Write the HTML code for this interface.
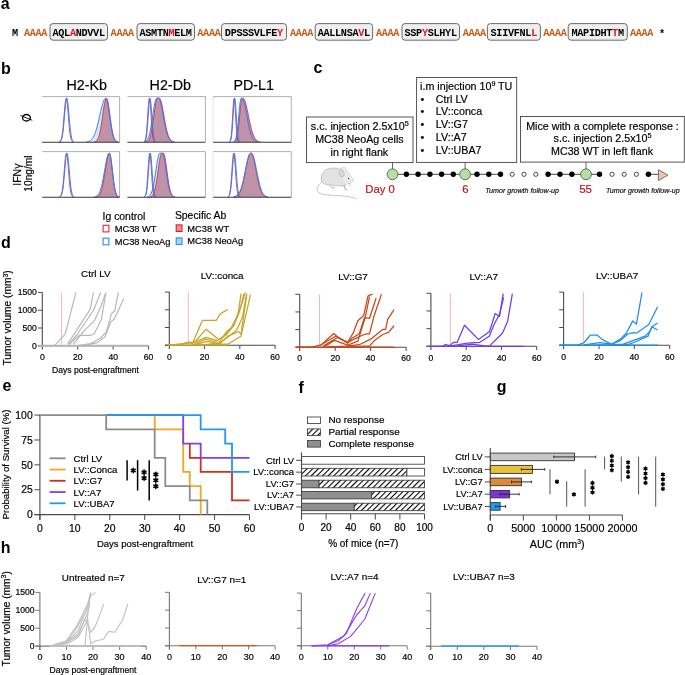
<!DOCTYPE html>
<html><head><meta charset="utf-8"><style>
html,body{margin:0;padding:0;background:#fff;}
svg{display:block;will-change:transform;}
</style></head><body>
<svg width="685" height="675" viewBox="0 0 685 675" font-family="'Liberation Sans', sans-serif">
<rect width="685" height="675" fill="#fff"/>
<text x="0.80" y="8.60" font-family="'Liberation Sans', sans-serif" font-size="16" text-anchor="start" font-weight="bold" font-style="normal" fill="#000" >a</text>
<text x="12.00" y="35.60" font-family="'Liberation Mono', monospace" font-size="10.2" text-anchor="start" font-weight="bold" font-style="normal" fill="#000" letter-spacing="-0.32">M</text>
<text x="23.90" y="35.60" font-family="'Liberation Mono', monospace" font-size="10.2" text-anchor="start" font-weight="bold" font-style="normal" fill="#c85a14" letter-spacing="-0.32">AAAA</text>
<text x="110.60" y="35.60" font-family="'Liberation Mono', monospace" font-size="10.2" text-anchor="start" font-weight="bold" font-style="normal" fill="#c85a14" letter-spacing="-0.32">AAAA</text>
<text x="197.30" y="35.60" font-family="'Liberation Mono', monospace" font-size="10.2" text-anchor="start" font-weight="bold" font-style="normal" fill="#c85a14" letter-spacing="-0.32">AAAA</text>
<text x="289.90" y="35.60" font-family="'Liberation Mono', monospace" font-size="10.2" text-anchor="start" font-weight="bold" font-style="normal" fill="#c85a14" letter-spacing="-0.32">AAAA</text>
<text x="375.90" y="35.60" font-family="'Liberation Mono', monospace" font-size="10.2" text-anchor="start" font-weight="bold" font-style="normal" fill="#c85a14" letter-spacing="-0.32">AAAA</text>
<text x="462.70" y="35.60" font-family="'Liberation Mono', monospace" font-size="10.2" text-anchor="start" font-weight="bold" font-style="normal" fill="#c85a14" letter-spacing="-0.32">AAAA</text>
<text x="543.30" y="35.60" font-family="'Liberation Mono', monospace" font-size="10.2" text-anchor="start" font-weight="bold" font-style="normal" fill="#c85a14" letter-spacing="-0.32">AAAA</text>
<text x="629.90" y="35.60" font-family="'Liberation Mono', monospace" font-size="10.2" text-anchor="start" font-weight="bold" font-style="normal" fill="#c85a14" letter-spacing="-0.32">AAAA</text>
<rect x="50.00" y="23.60" width="57.50" height="16.60" rx="3" fill="#efefef" stroke="#5a5a5a" stroke-width="0.9" />
<text x="78.60" y="35.60" font-family="'Liberation Mono', monospace" font-size="10.2" text-anchor="middle" font-weight="bold" font-style="normal" fill="#000" letter-spacing="-0.32">AQL<tspan fill="#e8141c">A</tspan>NDVVL</text>
<rect x="137.00" y="23.60" width="57.50" height="16.60" rx="3" fill="#efefef" stroke="#5a5a5a" stroke-width="0.9" />
<text x="165.60" y="35.60" font-family="'Liberation Mono', monospace" font-size="10.2" text-anchor="middle" font-weight="bold" font-style="normal" fill="#000" letter-spacing="-0.32">ASMTN<tspan fill="#e8141c">M</tspan>ELM</text>
<rect x="221.50" y="23.60" width="65.00" height="16.60" rx="3" fill="#efefef" stroke="#5a5a5a" stroke-width="0.9" />
<text x="253.85" y="35.60" font-family="'Liberation Mono', monospace" font-size="10.2" text-anchor="middle" font-weight="bold" font-style="normal" fill="#000" letter-spacing="-0.32">DPSSSVLFE<tspan fill="#e8141c">Y</tspan></text>
<rect x="315.20" y="23.60" width="57.40" height="16.60" rx="3" fill="#efefef" stroke="#5a5a5a" stroke-width="0.9" />
<text x="343.75" y="35.60" font-family="'Liberation Mono', monospace" font-size="10.2" text-anchor="middle" font-weight="bold" font-style="normal" fill="#000" letter-spacing="-0.32">AALLNSA<tspan fill="#e8141c">V</tspan>L</text>
<rect x="402.00" y="23.60" width="57.50" height="16.60" rx="3" fill="#efefef" stroke="#5a5a5a" stroke-width="0.9" />
<text x="430.60" y="35.60" font-family="'Liberation Mono', monospace" font-size="10.2" text-anchor="middle" font-weight="bold" font-style="normal" fill="#000" letter-spacing="-0.32">SSP<tspan fill="#e8141c">Y</tspan>SLHYL</text>
<rect x="487.40" y="23.60" width="53.00" height="16.60" rx="3" fill="#efefef" stroke="#5a5a5a" stroke-width="0.9" />
<text x="513.75" y="35.60" font-family="'Liberation Mono', monospace" font-size="10.2" text-anchor="middle" font-weight="bold" font-style="normal" fill="#000" letter-spacing="-0.32">SIIVFNL<tspan fill="#e8141c">L</tspan></text>
<rect x="568.20" y="23.60" width="59.10" height="16.60" rx="3" fill="#efefef" stroke="#5a5a5a" stroke-width="0.9" />
<text x="597.60" y="35.60" font-family="'Liberation Mono', monospace" font-size="10.2" text-anchor="middle" font-weight="bold" font-style="normal" fill="#000" letter-spacing="-0.32">MAPIDHT<tspan fill="#e8141c">T</tspan>M</text>
<text x="659.00" y="36.50" font-family="'Liberation Mono', monospace" font-size="10.2" text-anchor="start" font-weight="bold" font-style="normal" fill="#000" >*</text>
<text x="0.90" y="73.50" font-family="'Liberation Sans', sans-serif" font-size="16" text-anchor="start" font-weight="bold" font-style="normal" fill="#000" >b</text>
<text x="66.50" y="89.90" font-family="'Liberation Sans', sans-serif" font-size="14.3" text-anchor="start" font-weight="normal" font-style="normal" fill="#000" stroke="#000" stroke-width="0.18" >H2-Kb</text>
<text x="149.60" y="89.90" font-family="'Liberation Sans', sans-serif" font-size="14.3" text-anchor="start" font-weight="normal" font-style="normal" fill="#000" stroke="#000" stroke-width="0.18" >H2-Db</text>
<text x="233.40" y="89.90" font-family="'Liberation Sans', sans-serif" font-size="14.3" text-anchor="start" font-weight="normal" font-style="normal" fill="#000" stroke="#000" stroke-width="0.18" >PD-L1</text>
<path d="M42.20,142.10 L43.17,142.10 L44.14,142.10 L45.10,142.10 L46.07,142.10 L47.04,142.10 L48.01,142.10 L48.97,142.10 L49.94,142.10 L50.91,142.10 L51.88,142.10 L52.84,142.10 L53.81,142.10 L54.78,142.10 L55.75,142.10 L56.71,142.10 L57.68,142.10 L58.65,142.10 L59.62,142.10 L60.58,142.10 L61.55,142.10 L62.52,142.10 L63.48,142.10 L64.45,142.10 L65.42,142.10 L66.39,142.10 L67.36,142.10 L68.32,142.10 L69.29,142.10 L70.26,142.10 L71.22,142.10 L72.19,142.10 L73.16,142.10 L74.13,142.10 L75.09,142.10 L76.06,142.10 L77.03,142.10 L78.00,142.10 L78.97,142.10 L79.93,142.10 L80.90,142.09 L81.87,142.08 L82.84,142.07 L83.80,142.05 L84.77,142.01 L85.74,141.94 L86.70,141.82 L87.67,141.64 L88.64,141.37 L89.61,140.95 L90.57,140.35 L91.54,139.49 L92.51,138.32 L93.48,136.77 L94.44,134.78 L95.41,132.29 L96.38,129.30 L97.35,125.83 L98.31,121.94 L99.28,117.76 L100.25,113.48 L101.22,109.31 L102.19,105.49 L103.15,102.27 L104.12,99.89 L105.09,98.51 L106.06,98.30 L107.02,100.53 L107.99,105.25 L108.96,111.60 L109.92,118.52 L110.89,125.07 L111.86,130.62 L112.83,134.87 L113.80,137.85 L114.76,139.76 L115.73,140.90 L116.70,141.53 L117.66,141.84 L118.63,141.99 L119.60,142.06 L119.60,142.10 L42.20,142.10Z" fill="#d4e8fb" stroke="none"/>
<path d="M42.20,142.10 L43.17,142.10 L44.14,142.10 L45.10,142.10 L46.07,142.10 L47.04,142.10 L48.01,142.10 L48.97,142.10 L49.94,142.10 L50.91,142.10 L51.88,142.10 L52.84,142.10 L53.81,142.10 L54.78,142.10 L55.75,142.10 L56.71,142.10 L57.68,142.10 L58.65,142.10 L59.62,142.10 L60.58,142.10 L61.55,142.10 L62.52,142.10 L63.48,142.10 L64.45,142.10 L65.42,142.10 L66.39,142.10 L67.36,142.10 L68.32,142.10 L69.29,142.10 L70.26,142.10 L71.22,142.10 L72.19,142.10 L73.16,142.10 L74.13,142.10 L75.09,142.10 L76.06,142.10 L77.03,142.10 L78.00,142.10 L78.97,142.10 L79.93,142.10 L80.90,142.10 L81.87,142.10 L82.84,142.10 L83.80,142.10 L84.77,142.10 L85.74,142.10 L86.70,142.10 L87.67,142.10 L88.64,142.10 L89.61,142.10 L90.57,142.09 L91.54,142.08 L92.51,142.05 L93.48,141.98 L94.44,141.81 L95.41,141.48 L96.38,140.83 L97.35,139.69 L98.31,137.78 L99.28,134.87 L100.25,130.75 L101.22,125.40 L102.19,119.06 L103.15,112.32 L104.12,106.02 L105.09,101.13 L106.06,98.50 L107.02,98.69 L107.99,102.00 L108.96,107.79 L109.92,114.90 L110.89,122.13 L111.86,128.51 L112.83,133.53 L113.80,137.10 L114.76,139.39 L115.73,140.74 L116.70,141.47 L117.66,141.83 L118.63,141.99 L119.60,142.06 L119.60,142.10 L42.20,142.10Z" fill="#bf92a8" stroke="none"/>
<path d="M42.20,96.60 L119.60,96.60 L119.60,142.10" fill="none" stroke="#959595" stroke-width="0.75"/>
<polyline points="59.13,141.95 59.62,141.78 60.10,141.46 60.58,140.87 61.07,139.89 61.55,138.32 62.03,135.97 62.52,132.67 63.00,128.34 63.48,123.07 63.97,117.14 64.45,111.05 64.94,105.47 65.42,101.13 65.90,98.63 66.39,98.37 66.87,100.39 67.36,104.36 67.84,109.72 68.32,115.76 68.81,121.78 69.29,127.23 69.77,131.78 70.26,135.31 70.74,137.86 71.22,139.59 71.71,140.69 72.19,141.35 72.68,141.72 73.16,141.92" stroke="#e31c2c" stroke-width="0.8" fill="none" stroke-linejoin="round" />
<polyline points="93.96,141.91 94.44,141.81 94.93,141.67 95.41,141.48 95.90,141.21 96.38,140.83 96.86,140.34 97.35,139.69 97.83,138.85 98.31,137.78 98.80,136.47 99.28,134.87 99.77,132.97 100.25,130.75 100.73,128.22 101.22,125.40 101.70,122.32 102.19,119.06 102.67,115.69 103.15,112.32 103.64,109.05 104.12,106.02 104.60,103.34 105.09,101.13 105.57,99.49 106.06,98.50 106.54,98.20 107.02,98.69 107.51,99.98 107.99,102.00 108.47,104.65 108.96,107.79 109.44,111.26 109.92,114.90 110.41,118.57 110.89,122.13 111.38,125.47 111.86,128.51 112.34,131.21 112.83,133.53 113.31,135.49 113.80,137.10 114.28,138.39 114.76,139.39 115.25,140.17 115.73,140.74 116.21,141.17 116.70,141.47 117.18,141.68 117.66,141.83 118.15,141.93" stroke="#e31c2c" stroke-width="0.8" fill="none" stroke-linejoin="round" />
<polyline points="59.13,141.97 59.62,141.84 60.10,141.60 60.58,141.17 61.07,140.44 61.55,139.28 62.03,137.54 62.52,135.04 63.00,131.68 63.48,127.41 63.97,122.35 64.45,116.75 64.94,111.04 65.42,105.79 65.90,101.58 66.39,98.94 66.87,98.22 67.36,99.53 67.84,102.68 68.32,107.25 68.81,112.71 69.29,118.43 69.77,123.91 70.26,128.76 70.74,132.76 71.22,135.86 71.71,138.12 72.19,139.68 72.68,140.69 73.16,141.32 73.64,141.69 74.13,141.89" stroke="#1f80ff" stroke-width="0.95" fill="none" stroke-linejoin="round" />
<polyline points="86.22,141.89 86.70,141.82 87.19,141.74 87.67,141.64 88.16,141.52 88.64,141.37 89.12,141.18 89.61,140.95 90.09,140.67 90.57,140.35 91.06,139.95 91.54,139.49 92.03,138.95 92.51,138.32 92.99,137.60 93.48,136.77 93.96,135.83 94.44,134.78 94.93,133.60 95.41,132.29 95.90,130.86 96.38,129.30 96.86,127.62 97.35,125.83 97.83,123.93 98.31,121.94 98.80,119.88 99.28,117.76 99.77,115.62 100.25,113.48 100.73,111.36 101.22,109.31 101.70,107.34 102.19,105.49 102.67,103.79 103.15,102.27 103.64,100.96 104.12,99.89 104.60,99.06 105.09,98.51 105.57,98.23 106.06,98.30 106.54,99.07 107.02,100.53 107.51,102.63 107.99,105.25 108.47,108.29 108.96,111.60 109.44,115.05 109.92,118.52 110.41,121.89 110.89,125.07 111.38,128.00 111.86,130.62 112.34,132.91 112.83,134.87 113.31,136.51 113.80,137.85 114.28,138.92 114.76,139.76 115.25,140.41 115.73,140.90 116.21,141.26 116.70,141.53 117.18,141.71 117.66,141.84 118.15,141.93" stroke="#1f80ff" stroke-width="0.95" fill="none" stroke-linejoin="round" />
<line x1="42.20" y1="142.25" x2="119.60" y2="142.25" stroke="#2a2a2a" stroke-width="0.95" stroke-linecap="butt" />
<path d="M42.20,197.10 L43.17,197.10 L44.14,197.10 L45.10,197.10 L46.07,197.10 L47.04,197.10 L48.01,197.10 L48.97,197.10 L49.94,197.10 L50.91,197.10 L51.88,197.10 L52.84,197.10 L53.81,197.10 L54.78,197.10 L55.75,197.10 L56.71,197.10 L57.68,197.10 L58.65,197.10 L59.62,197.10 L60.58,197.10 L61.55,197.10 L62.52,197.10 L63.48,197.10 L64.45,197.10 L65.42,197.10 L66.39,197.10 L67.36,197.10 L68.32,197.10 L69.29,197.10 L70.26,197.10 L71.22,197.10 L72.19,197.10 L73.16,197.10 L74.13,197.10 L75.09,197.10 L76.06,197.10 L77.03,197.10 L78.00,197.10 L78.97,197.10 L79.93,197.10 L80.90,197.10 L81.87,197.10 L82.84,197.10 L83.80,197.10 L84.77,197.10 L85.74,197.10 L86.70,197.10 L87.67,197.10 L88.64,197.10 L89.61,197.09 L90.57,197.09 L91.54,197.07 L92.51,197.04 L93.48,196.97 L94.44,196.84 L95.41,196.61 L96.38,196.20 L97.35,195.51 L98.31,194.43 L99.28,192.80 L100.25,190.49 L101.22,187.36 L102.19,183.38 L103.15,178.60 L104.12,173.24 L105.09,167.66 L106.06,162.35 L107.02,157.85 L107.99,154.69 L108.96,153.26 L109.92,154.38 L110.89,159.28 L111.86,166.72 L112.83,174.96 L113.80,182.47 L114.76,188.32 L115.73,192.33 L116.70,194.74 L117.66,196.04 L118.63,196.67 L119.60,196.94 L119.60,197.10 L42.20,197.10Z" fill="#d4e8fb" stroke="none"/>
<path d="M42.20,197.10 L43.17,197.10 L44.14,197.10 L45.10,197.10 L46.07,197.10 L47.04,197.10 L48.01,197.10 L48.97,197.10 L49.94,197.10 L50.91,197.10 L51.88,197.10 L52.84,197.10 L53.81,197.10 L54.78,197.10 L55.75,197.10 L56.71,197.10 L57.68,197.10 L58.65,197.10 L59.62,197.10 L60.58,197.10 L61.55,197.10 L62.52,197.10 L63.48,197.10 L64.45,197.10 L65.42,197.10 L66.39,197.10 L67.36,197.10 L68.32,197.10 L69.29,197.10 L70.26,197.10 L71.22,197.10 L72.19,197.10 L73.16,197.10 L74.13,197.10 L75.09,197.10 L76.06,197.10 L77.03,197.10 L78.00,197.10 L78.97,197.10 L79.93,197.10 L80.90,197.10 L81.87,197.10 L82.84,197.10 L83.80,197.10 L84.77,197.10 L85.74,197.10 L86.70,197.10 L87.67,197.10 L88.64,197.10 L89.61,197.10 L90.57,197.10 L91.54,197.10 L92.51,197.09 L93.48,197.07 L94.44,197.03 L95.41,196.94 L96.38,196.77 L97.35,196.43 L98.31,195.83 L99.28,194.82 L100.25,193.22 L101.22,190.82 L102.19,187.47 L103.15,183.09 L104.12,177.77 L105.09,171.82 L106.06,165.74 L107.02,160.21 L107.99,155.95 L108.96,153.56 L109.92,153.67 L110.89,157.98 L111.86,165.57 L112.83,174.37 L113.80,182.44 L114.76,188.64 L115.73,192.73 L116.70,195.08 L117.66,196.27 L118.63,196.79 L119.60,197.00 L119.60,197.10 L42.20,197.10Z" fill="#bf92a8" stroke="none"/>
<path d="M42.20,151.60 L119.60,151.60 L119.60,197.10" fill="none" stroke="#959595" stroke-width="0.75"/>
<polyline points="59.62,196.86 60.10,196.61 60.58,196.15 61.07,195.36 61.55,194.05 62.03,192.04 62.52,189.15 63.00,185.25 63.48,180.35 63.97,174.64 64.45,168.54 64.94,162.67 65.42,157.73 65.90,154.41 66.39,153.20 66.87,154.29 67.36,157.51 67.84,162.38 68.32,168.23 68.81,174.33 69.29,180.07 69.77,185.02 70.26,188.98 70.74,191.92 71.22,193.97 71.71,195.30 72.19,196.12 72.68,196.60 73.16,196.85" stroke="#e31c2c" stroke-width="0.8" fill="none" stroke-linejoin="round" />
<polyline points="95.90,196.87 96.38,196.77 96.86,196.62 97.35,196.43 97.83,196.17 98.31,195.83 98.80,195.39 99.28,194.82 99.77,194.11 100.25,193.22 100.73,192.13 101.22,190.82 101.70,189.27 102.19,187.47 102.67,185.40 103.15,183.09 103.64,180.53 104.12,177.77 104.60,174.85 105.09,171.82 105.57,168.76 106.06,165.74 106.54,162.86 107.02,160.21 107.51,157.88 107.99,155.95 108.47,154.49 108.96,153.56 109.44,153.20 109.92,153.67 110.41,155.30 110.89,157.98 111.38,161.49 111.86,165.57 112.34,169.96 112.83,174.37 113.31,178.59 113.80,182.44 114.28,185.81 114.76,188.64 115.25,190.94 115.73,192.73 116.21,194.09 116.70,195.08 117.18,195.78 117.66,196.27 118.15,196.59 118.63,196.79 119.12,196.92" stroke="#e31c2c" stroke-width="0.8" fill="none" stroke-linejoin="round" />
<polyline points="59.62,196.91 60.10,196.72 60.58,196.38 61.07,195.79 61.55,194.82 62.03,193.34 62.52,191.17 63.00,188.18 63.48,184.28 63.97,179.53 64.45,174.11 64.94,168.38 65.42,162.87 65.90,158.15 66.39,154.81 66.87,153.27 67.36,153.75 67.84,156.17 68.32,160.22 68.81,165.38 69.29,171.07 69.77,176.71 70.26,181.85 70.74,186.22 71.22,189.69 71.71,192.28 72.19,194.11 72.68,195.33 73.16,196.10 73.64,196.56 74.13,196.82 74.61,196.96" stroke="#1f80ff" stroke-width="0.95" fill="none" stroke-linejoin="round" />
<polyline points="93.96,196.92 94.44,196.84 94.93,196.74 95.41,196.61 95.90,196.43 96.38,196.20 96.86,195.90 97.35,195.51 97.83,195.03 98.31,194.43 98.80,193.69 99.28,192.80 99.77,191.74 100.25,190.49 100.73,189.03 101.22,187.36 101.70,185.47 102.19,183.38 102.67,181.08 103.15,178.60 103.64,175.98 104.12,173.24 104.60,170.45 105.09,167.66 105.57,164.94 106.06,162.35 106.54,159.96 107.02,157.85 107.51,156.08 107.99,154.69 108.47,153.74 108.96,153.26 109.44,153.33 109.92,154.38 110.41,156.41 110.89,159.28 111.38,162.79 111.86,166.72 112.34,170.85 112.83,174.96 113.31,178.88 113.80,182.47 114.28,185.63 114.76,188.32 115.25,190.55 115.73,192.33 116.21,193.70 116.70,194.74 117.18,195.50 117.66,196.04 118.15,196.42 118.63,196.67 119.12,196.84 119.60,196.94" stroke="#1f80ff" stroke-width="0.95" fill="none" stroke-linejoin="round" />
<line x1="42.20" y1="197.25" x2="119.60" y2="197.25" stroke="#2a2a2a" stroke-width="0.95" stroke-linecap="butt" />
<path d="M127.40,142.10 L128.38,142.10 L129.35,142.10 L130.33,142.10 L131.30,142.10 L132.28,142.10 L133.25,142.10 L134.22,142.10 L135.20,142.10 L136.18,142.10 L137.15,142.10 L138.12,142.10 L139.10,142.10 L140.08,142.10 L141.05,142.09 L142.03,142.06 L143.00,142.01 L143.97,141.89 L144.95,141.63 L145.93,141.13 L146.90,140.23 L147.88,138.71 L148.85,136.31 L149.83,132.82 L150.80,128.12 L151.78,122.32 L152.75,115.81 L153.72,109.28 L154.70,103.61 L155.68,99.69 L156.65,98.20 L157.62,98.20 L158.60,98.21 L159.57,99.33 L160.55,102.18 L161.53,106.41 L162.50,111.54 L163.48,117.03 L164.45,122.40 L165.43,127.27 L166.40,131.41 L167.38,134.72 L168.35,137.22 L169.32,139.01 L170.30,140.22 L171.28,141.01 L172.25,141.49 L173.23,141.78 L174.20,141.93 L175.18,142.02 L176.15,142.06 L177.12,142.08 L178.10,142.09 L179.07,142.10 L180.05,142.10 L181.03,142.10 L182.00,142.10 L182.98,142.10 L183.95,142.10 L184.93,142.10 L185.90,142.10 L186.88,142.10 L187.85,142.10 L188.82,142.10 L189.80,142.10 L190.78,142.10 L191.75,142.10 L192.73,142.10 L193.70,142.10 L194.68,142.10 L195.65,142.10 L196.62,142.10 L197.60,142.10 L198.57,142.10 L199.55,142.10 L200.53,142.10 L201.50,142.10 L202.48,142.10 L203.45,142.10 L204.43,142.10 L205.40,142.10 L205.40,142.10 L127.40,142.10Z" fill="#d4e8fb" stroke="none"/>
<path d="M127.40,142.10 L128.38,142.10 L129.35,142.10 L130.33,142.10 L131.30,142.10 L132.28,142.10 L133.25,142.10 L134.22,142.10 L135.20,142.10 L136.18,142.10 L137.15,142.10 L138.12,142.10 L139.10,142.10 L140.08,142.10 L141.05,142.10 L142.03,142.10 L143.00,142.09 L143.97,142.06 L144.95,142.00 L145.93,141.85 L146.90,141.52 L147.88,140.87 L148.85,139.65 L149.83,137.58 L150.80,134.33 L151.78,129.70 L152.75,123.72 L153.72,116.77 L154.70,109.66 L155.68,103.49 L156.65,99.41 L157.62,98.20 L158.60,98.20 L159.57,98.28 L160.55,99.79 L161.53,103.05 L162.50,107.63 L163.48,113.02 L164.45,118.64 L165.43,124.01 L166.40,128.76 L167.38,132.70 L168.35,135.76 L169.32,138.02 L170.30,139.58 L171.28,140.62 L172.25,141.27 L173.23,141.65 L174.20,141.87 L175.18,141.99 L176.15,142.05 L177.12,142.08 L178.10,142.09 L179.07,142.10 L180.05,142.10 L181.03,142.10 L182.00,142.10 L182.98,142.10 L183.95,142.10 L184.93,142.10 L185.90,142.10 L186.88,142.10 L187.85,142.10 L188.82,142.10 L189.80,142.10 L190.78,142.10 L191.75,142.10 L192.73,142.10 L193.70,142.10 L194.68,142.10 L195.65,142.10 L196.62,142.10 L197.60,142.10 L198.57,142.10 L199.55,142.10 L200.53,142.10 L201.50,142.10 L202.48,142.10 L203.45,142.10 L204.43,142.10 L205.40,142.10 L205.40,142.10 L127.40,142.10Z" fill="#bf92a8" stroke="none"/>
<path d="M127.40,96.60 L205.40,96.60 L205.40,142.10" fill="none" stroke="#959595" stroke-width="0.75"/>
<polyline points="143.97,141.86 144.46,141.52 144.95,140.79 145.44,139.38 145.93,136.93 146.41,133.07 146.90,127.59 147.39,120.68 147.88,113.02 148.36,105.82 148.85,100.49 149.34,98.23 149.83,99.58 150.31,104.22 150.80,111.08 151.29,118.75 151.78,125.94 152.26,131.82 152.75,136.09 153.24,138.87 153.72,140.50 154.21,141.37 154.70,141.80 155.19,141.98" stroke="#e31c2c" stroke-width="0.8" fill="none" stroke-linejoin="round" />
<polyline points="145.93,141.85 146.41,141.72 146.90,141.52 147.39,141.25 147.88,140.87 148.36,140.35 148.85,139.65 149.34,138.74 149.83,137.58 150.31,136.12 150.80,134.33 151.29,132.20 151.78,129.70 152.26,126.86 152.75,123.72 153.24,120.32 153.72,116.77 154.21,113.17 154.70,109.66 155.19,106.38 155.68,103.49 156.16,101.13 156.65,99.41 157.14,98.42 157.62,98.20 158.11,98.20 158.60,98.20 159.09,98.20 159.57,98.28 160.06,98.80 160.55,99.79 161.04,101.22 161.53,103.05 162.01,105.21 162.50,107.63 162.99,110.26 163.48,113.02 163.96,115.84 164.45,118.64 164.94,121.38 165.43,124.01 165.91,126.48 166.40,128.76 166.89,130.84 167.38,132.70 167.86,134.34 168.35,135.76 168.84,136.98 169.32,138.02 169.81,138.88 170.30,139.58 170.79,140.16 171.28,140.62 171.76,140.98 172.25,141.27 172.74,141.48 173.23,141.65 173.71,141.78 174.20,141.87" stroke="#e31c2c" stroke-width="0.8" fill="none" stroke-linejoin="round" />
<polyline points="143.97,141.95 144.46,141.73 144.95,141.27 145.44,140.38 145.93,138.79 146.41,136.18 146.90,132.27 147.39,126.93 147.88,120.37 148.36,113.18 148.85,106.37 149.34,101.10 149.83,98.41 150.31,98.86 150.80,102.36 151.29,108.19 151.78,115.22 152.26,122.32 152.75,128.58 153.24,133.52 153.72,137.04 154.21,139.33 154.70,140.69 155.19,141.44 155.68,141.81 156.16,141.98" stroke="#1f80ff" stroke-width="0.95" fill="none" stroke-linejoin="round" />
<polyline points="143.97,141.89 144.46,141.78 144.95,141.63 145.44,141.42 145.93,141.13 146.41,140.75 146.90,140.23 147.39,139.56 147.88,138.71 148.36,137.63 148.85,136.31 149.34,134.71 149.83,132.82 150.31,130.62 150.80,128.12 151.29,125.34 151.78,122.32 152.26,119.12 152.75,115.81 153.24,112.50 153.72,109.28 154.21,106.28 154.70,103.61 155.19,101.38 155.68,99.69 156.16,98.61 156.65,98.20 157.14,98.20 157.62,98.20 158.11,98.20 158.60,98.21 159.09,98.54 159.57,99.33 160.06,100.56 160.55,102.18 161.04,104.15 161.53,106.41 162.01,108.90 162.50,111.54 162.99,114.27 163.48,117.03 163.96,119.76 164.45,122.40 164.94,124.92 165.43,127.27 165.91,129.44 166.40,131.41 166.89,133.17 167.38,134.72 167.86,136.06 168.35,137.22 168.84,138.19 169.32,139.01 169.81,139.68 170.30,140.22 170.79,140.66 171.28,141.01 171.76,141.28 172.25,141.49 172.74,141.65 173.23,141.78 173.71,141.87" stroke="#1f80ff" stroke-width="0.95" fill="none" stroke-linejoin="round" />
<line x1="127.40" y1="142.25" x2="205.40" y2="142.25" stroke="#2a2a2a" stroke-width="0.95" stroke-linecap="butt" />
<path d="M127.40,197.10 L128.38,197.10 L129.35,197.10 L130.33,197.10 L131.30,197.10 L132.28,197.10 L133.25,197.10 L134.22,197.10 L135.20,197.10 L136.18,197.10 L137.15,197.10 L138.12,197.10 L139.10,197.10 L140.08,197.10 L141.05,197.10 L142.03,197.10 L143.00,197.10 L143.97,197.09 L144.95,197.07 L145.93,197.02 L146.90,196.92 L147.88,196.69 L148.85,196.25 L149.83,195.43 L150.80,194.04 L151.78,191.82 L152.75,188.53 L153.72,184.05 L154.70,178.43 L155.68,172.01 L156.65,165.42 L157.62,159.52 L158.60,155.23 L159.57,153.27 L160.55,153.20 L161.53,153.20 L162.50,153.34 L163.48,155.60 L164.45,160.26 L165.43,166.48 L166.40,173.27 L167.38,179.73 L168.35,185.25 L169.32,189.53 L170.30,192.57 L171.28,194.56 L172.25,195.77 L173.23,196.45 L174.20,196.80 L175.18,196.97 L176.15,197.05 L177.12,197.08 L178.10,197.09 L179.07,197.10 L180.05,197.10 L181.03,197.10 L182.00,197.10 L182.98,197.10 L183.95,197.10 L184.93,197.10 L185.90,197.10 L186.88,197.10 L187.85,197.10 L188.82,197.10 L189.80,197.10 L190.78,197.10 L191.75,197.10 L192.73,197.10 L193.70,197.10 L194.68,197.10 L195.65,197.10 L196.62,197.10 L197.60,197.10 L198.57,197.10 L199.55,197.10 L200.53,197.10 L201.50,197.10 L202.48,197.10 L203.45,197.10 L204.43,197.10 L205.40,197.10 L205.40,197.10 L127.40,197.10Z" fill="#d4e8fb" stroke="none"/>
<path d="M127.40,197.10 L128.38,197.10 L129.35,197.10 L130.33,197.10 L131.30,197.10 L132.28,197.10 L133.25,197.10 L134.22,197.10 L135.20,197.10 L136.18,197.10 L137.15,197.10 L138.12,197.10 L139.10,197.10 L140.08,197.10 L141.05,197.10 L142.03,197.10 L143.00,197.10 L143.97,197.10 L144.95,197.10 L145.93,197.10 L146.90,197.09 L147.88,197.06 L148.85,197.00 L149.83,196.87 L150.80,196.57 L151.78,195.98 L152.75,194.90 L153.72,193.04 L154.70,190.14 L155.68,185.95 L156.65,180.44 L157.62,173.87 L158.60,166.90 L159.57,160.46 L160.55,155.64 L161.53,153.32 L162.50,153.20 L163.48,153.21 L164.45,155.13 L165.43,159.97 L166.40,166.70 L167.38,174.07 L168.35,180.95 L169.32,186.62 L170.30,190.81 L171.28,193.61 L172.25,195.30 L173.23,196.25 L174.20,196.72 L175.18,196.95 L176.15,197.04 L177.12,197.08 L178.10,197.09 L179.07,197.10 L180.05,197.10 L181.03,197.10 L182.00,197.10 L182.98,197.10 L183.95,197.10 L184.93,197.10 L185.90,197.10 L186.88,197.10 L187.85,197.10 L188.82,197.10 L189.80,197.10 L190.78,197.10 L191.75,197.10 L192.73,197.10 L193.70,197.10 L194.68,197.10 L195.65,197.10 L196.62,197.10 L197.60,197.10 L198.57,197.10 L199.55,197.10 L200.53,197.10 L201.50,197.10 L202.48,197.10 L203.45,197.10 L204.43,197.10 L205.40,197.10 L205.40,197.10 L127.40,197.10Z" fill="#bf92a8" stroke="none"/>
<path d="M127.40,151.60 L205.40,151.60 L205.40,197.10" fill="none" stroke="#959595" stroke-width="0.75"/>
<polyline points="143.97,196.97 144.46,196.76 144.95,196.29 145.44,195.34 145.93,193.58 146.41,190.63 146.90,186.15 147.39,180.08 147.88,172.77 148.36,165.12 148.85,158.47 149.34,154.21 149.83,153.32 150.31,156.02 150.80,161.67 151.29,169.01 151.78,176.63 152.26,183.38 152.75,188.65 153.24,192.32 153.72,194.61 154.21,195.91 154.70,196.58 155.19,196.89" stroke="#e31c2c" stroke-width="0.8" fill="none" stroke-linejoin="round" />
<polyline points="149.83,196.87 150.31,196.75 150.80,196.57 151.29,196.32 151.78,195.98 152.26,195.52 152.75,194.90 153.24,194.08 153.72,193.04 154.21,191.74 154.70,190.14 155.19,188.21 155.68,185.95 156.16,183.35 156.65,180.44 157.14,177.26 157.62,173.87 158.11,170.38 158.60,166.90 159.09,163.54 159.57,160.46 160.06,157.78 160.55,155.64 161.04,154.12 161.53,153.32 162.01,153.20 162.50,153.20 162.99,153.20 163.48,153.21 163.96,153.76 164.45,155.13 164.94,157.24 165.43,159.97 165.91,163.17 166.40,166.70 166.89,170.38 167.38,174.07 167.86,177.63 168.35,180.95 168.84,183.97 169.32,186.62 169.81,188.90 170.30,190.81 170.79,192.37 171.28,193.61 171.76,194.57 172.25,195.30 172.74,195.85 173.23,196.25 173.71,196.53 174.20,196.72 174.69,196.86" stroke="#e31c2c" stroke-width="0.8" fill="none" stroke-linejoin="round" />
<polyline points="144.46,196.88 144.95,196.59 145.44,195.99 145.93,194.87 146.41,192.93 146.90,189.84 147.39,185.38 147.88,179.53 148.36,172.63 148.85,165.46 149.34,159.10 149.83,154.72 150.31,153.20 150.80,154.88 151.29,159.38 151.78,165.81 152.26,173.00 152.75,179.86 153.24,185.65 153.72,190.03 154.21,193.05 154.70,194.95 155.19,196.04 155.68,196.61 156.16,196.89" stroke="#1f80ff" stroke-width="0.95" fill="none" stroke-linejoin="round" />
<polyline points="146.90,196.92 147.39,196.82 147.88,196.69 148.36,196.50 148.85,196.25 149.34,195.90 149.83,195.43 150.31,194.82 150.80,194.04 151.29,193.05 151.78,191.82 152.26,190.32 152.75,188.53 153.24,186.44 153.72,184.05 154.21,181.37 154.70,178.43 155.19,175.29 155.68,172.01 156.16,168.68 156.65,165.42 157.14,162.33 157.62,159.52 158.11,157.12 158.60,155.23 159.09,153.93 159.57,153.27 160.06,153.20 160.55,153.20 161.04,153.20 161.53,153.20 162.01,153.20 162.50,153.34 162.99,154.13 163.48,155.60 163.96,157.68 164.45,160.26 164.94,163.23 165.43,166.48 165.91,169.86 166.40,173.27 166.89,176.59 167.38,179.73 167.86,182.64 168.35,185.25 168.84,187.55 169.32,189.53 169.81,191.20 170.30,192.57 170.79,193.68 171.28,194.56 171.76,195.25 172.25,195.77 172.74,196.16 173.23,196.45 173.71,196.65 174.20,196.80 174.69,196.90" stroke="#1f80ff" stroke-width="0.95" fill="none" stroke-linejoin="round" />
<line x1="127.40" y1="197.25" x2="205.40" y2="197.25" stroke="#2a2a2a" stroke-width="0.95" stroke-linecap="butt" />
<path d="M213.20,142.10 L214.18,142.10 L215.15,142.10 L216.13,142.10 L217.10,142.10 L218.08,142.10 L219.06,142.10 L220.03,142.10 L221.01,142.10 L221.99,142.10 L222.96,142.10 L223.94,142.10 L224.91,142.10 L225.89,142.10 L226.87,142.10 L227.84,142.10 L228.82,142.10 L229.80,142.10 L230.77,142.10 L231.75,142.08 L232.72,142.01 L233.70,141.77 L234.68,141.01 L235.65,139.06 L236.63,134.94 L237.61,127.79 L238.58,117.88 L239.56,107.35 L240.53,99.85 L241.51,98.20 L242.49,98.43 L243.46,100.19 L244.44,103.52 L245.42,108.02 L246.39,113.22 L247.37,118.61 L248.34,123.78 L249.32,128.38 L250.30,132.25 L251.27,135.31 L252.25,137.61 L253.23,139.25 L254.20,140.37 L255.18,141.09 L256.15,141.53 L257.13,141.79 L258.11,141.94 L259.08,142.02 L260.06,142.06 L261.04,142.08 L262.01,142.09 L262.99,142.10 L263.97,142.10 L264.94,142.10 L265.92,142.10 L266.89,142.10 L267.87,142.10 L268.85,142.10 L269.82,142.10 L270.80,142.10 L271.78,142.10 L272.75,142.10 L273.73,142.10 L274.70,142.10 L275.68,142.10 L276.66,142.10 L277.63,142.10 L278.61,142.10 L279.59,142.10 L280.56,142.10 L281.54,142.10 L282.51,142.10 L283.49,142.10 L284.47,142.10 L285.44,142.10 L286.42,142.10 L287.39,142.10 L288.37,142.10 L289.35,142.10 L290.32,142.10 L291.30,142.10 L291.30,142.10 L213.20,142.10Z" fill="#d4e8fb" stroke="none"/>
<path d="M213.20,142.10 L214.18,142.10 L215.15,142.10 L216.13,142.10 L217.10,142.10 L218.08,142.10 L219.06,142.10 L220.03,142.10 L221.01,142.10 L221.99,142.10 L222.96,142.10 L223.94,142.10 L224.91,142.10 L225.89,142.10 L226.87,142.10 L227.84,142.10 L228.82,142.10 L229.80,142.10 L230.77,142.10 L231.75,142.09 L232.72,142.07 L233.70,141.96 L234.68,141.63 L235.65,140.68 L236.63,138.43 L237.61,133.99 L238.58,126.69 L239.56,116.98 L240.53,106.93 L241.51,99.83 L242.49,98.20 L243.46,98.36 L244.44,99.73 L245.42,102.38 L246.39,106.06 L247.37,110.45 L248.34,115.20 L249.32,119.97 L250.30,124.48 L251.27,128.53 L252.25,131.98 L253.23,134.79 L254.20,137.00 L255.18,138.65 L256.15,139.84 L257.13,140.67 L258.11,141.22 L259.08,141.58 L260.06,141.80 L261.04,141.93 L262.01,142.01 L262.99,142.05 L263.97,142.08 L264.94,142.09 L265.92,142.09 L266.89,142.10 L267.87,142.10 L268.85,142.10 L269.82,142.10 L270.80,142.10 L271.78,142.10 L272.75,142.10 L273.73,142.10 L274.70,142.10 L275.68,142.10 L276.66,142.10 L277.63,142.10 L278.61,142.10 L279.59,142.10 L280.56,142.10 L281.54,142.10 L282.51,142.10 L283.49,142.10 L284.47,142.10 L285.44,142.10 L286.42,142.10 L287.39,142.10 L288.37,142.10 L289.35,142.10 L290.32,142.10 L291.30,142.10 L291.30,142.10 L213.20,142.10Z" fill="#bf92a8" stroke="none"/>
<path d="M213.20,96.60 L291.30,96.60 L291.30,142.10" fill="none" stroke="#959595" stroke-width="0.75"/>
<line x1="213.20" y1="96.60" x2="213.20" y2="142.10" stroke="#d8d8d8" stroke-width="0.7" stroke-linecap="butt" />
<polyline points="229.31,141.88 229.80,141.50 230.28,140.59 230.77,138.71 231.26,135.30 231.75,129.88 232.24,122.44 232.72,113.75 233.21,105.50 233.70,99.79 234.19,98.28 234.68,101.46 235.17,108.34 235.65,116.99 236.14,125.37 236.63,132.12 237.12,136.77 237.61,139.55 238.09,141.01 238.58,141.68 239.07,141.96" stroke="#e31c2c" stroke-width="0.8" fill="none" stroke-linejoin="round" />
<polyline points="233.70,141.96 234.19,141.84 234.68,141.63 235.17,141.26 235.65,140.68 236.14,139.77 236.63,138.43 237.12,136.54 237.61,133.99 238.09,130.70 238.58,126.69 239.07,122.05 239.56,116.98 240.05,111.80 240.53,106.93 241.02,102.80 241.51,99.83 242.00,98.34 242.49,98.20 242.98,98.20 243.46,98.36 243.95,98.88 244.44,99.73 244.93,100.91 245.42,102.38 245.90,104.11 246.39,106.06 246.88,108.19 247.37,110.45 247.86,112.80 248.34,115.20 248.83,117.60 249.32,119.97 249.81,122.28 250.30,124.48 250.79,126.57 251.27,128.53 251.76,130.33 252.25,131.98 252.74,133.46 253.23,134.79 253.71,135.97 254.20,137.00 254.69,137.89 255.18,138.65 255.67,139.30 256.15,139.84 256.64,140.30 257.13,140.67 257.62,140.98 258.11,141.22 258.60,141.42 259.08,141.58 259.57,141.70 260.06,141.80 260.55,141.88" stroke="#e31c2c" stroke-width="0.8" fill="none" stroke-linejoin="round" />
<polyline points="229.31,141.98 229.80,141.77 230.28,141.27 230.77,140.19 231.26,138.14 231.75,134.63 232.24,129.32 232.72,122.24 233.21,114.10 233.70,106.26 234.19,100.47 234.68,98.20 235.17,100.09 235.65,105.61 236.14,113.34 236.63,121.52 237.12,128.73 237.61,134.22 238.09,137.88 238.58,140.05 239.07,141.20 239.56,141.74 240.05,141.97" stroke="#1f80ff" stroke-width="0.95" fill="none" stroke-linejoin="round" />
<polyline points="233.21,141.93 233.70,141.77 234.19,141.48 234.68,141.01 235.17,140.24 235.65,139.06 236.14,137.34 236.63,134.94 237.12,131.76 237.61,127.79 238.09,123.10 238.58,117.88 239.07,112.48 239.56,107.35 240.05,102.99 240.53,99.85 241.02,98.32 241.51,98.20 242.00,98.20 242.49,98.43 242.98,99.10 243.46,100.19 243.95,101.68 244.44,103.52 244.93,105.65 245.42,108.02 245.90,110.57 246.39,113.22 246.88,115.92 247.37,118.61 247.86,121.25 248.34,123.78 248.83,126.16 249.32,128.38 249.81,130.41 250.30,132.25 250.79,133.88 251.27,135.31 251.76,136.55 252.25,137.61 252.74,138.50 253.23,139.25 253.71,139.87 254.20,140.37 254.69,140.77 255.18,141.09 255.67,141.34 256.15,141.53 256.64,141.68 257.13,141.79 257.62,141.88" stroke="#1f80ff" stroke-width="0.95" fill="none" stroke-linejoin="round" />
<line x1="213.20" y1="142.25" x2="291.30" y2="142.25" stroke="#2a2a2a" stroke-width="0.95" stroke-linecap="butt" />
<path d="M213.20,197.10 L214.18,197.10 L215.15,197.10 L216.13,197.10 L217.10,197.10 L218.08,197.10 L219.06,197.10 L220.03,197.10 L221.01,197.10 L221.99,197.10 L222.96,197.10 L223.94,197.10 L224.91,197.10 L225.89,197.10 L226.87,197.10 L227.84,197.10 L228.82,197.09 L229.80,197.08 L230.77,197.07 L231.75,197.03 L232.72,196.97 L233.70,196.86 L234.68,196.67 L235.65,196.36 L236.63,195.87 L237.61,195.12 L238.58,194.02 L239.56,192.47 L240.53,190.37 L241.51,187.65 L242.49,184.27 L243.46,180.26 L244.44,175.73 L245.42,170.89 L246.39,166.03 L247.37,161.50 L248.34,157.67 L249.32,154.88 L250.30,153.40 L251.27,153.20 L252.25,153.78 L253.23,155.83 L254.20,159.13 L255.18,163.39 L256.15,168.20 L257.13,173.18 L258.11,177.99 L259.08,182.37 L260.06,186.13 L261.04,189.22 L262.01,191.63 L262.99,193.44 L263.97,194.73 L264.94,195.62 L265.92,196.21 L266.89,196.58 L267.87,196.81 L268.85,196.94 L269.82,197.02 L270.80,197.06 L271.78,197.08 L272.75,197.09 L273.73,197.10 L274.70,197.10 L275.68,197.10 L276.66,197.10 L277.63,197.10 L278.61,197.10 L279.59,197.10 L280.56,197.10 L281.54,197.10 L282.51,197.10 L283.49,197.10 L284.47,197.10 L285.44,197.10 L286.42,197.10 L287.39,197.10 L288.37,197.10 L289.35,197.10 L290.32,197.10 L291.30,197.10 L291.30,197.10 L213.20,197.10Z" fill="#d4e8fb" stroke="none"/>
<path d="M213.20,197.10 L214.18,197.10 L215.15,197.10 L216.13,197.10 L217.10,197.10 L218.08,197.10 L219.06,197.10 L220.03,197.10 L221.01,197.10 L221.99,197.10 L222.96,197.10 L223.94,197.10 L224.91,197.10 L225.89,197.10 L226.87,197.10 L227.84,197.10 L228.82,197.09 L229.80,197.09 L230.77,197.07 L231.75,197.04 L232.72,196.98 L233.70,196.88 L234.68,196.70 L235.65,196.39 L236.63,195.91 L237.61,195.17 L238.58,194.06 L239.56,192.49 L240.53,190.36 L241.51,187.57 L242.49,184.10 L243.46,179.98 L244.44,175.34 L245.42,170.39 L246.39,165.46 L247.37,160.91 L248.34,157.14 L249.32,154.51 L250.30,153.27 L251.27,153.20 L252.25,154.20 L253.23,156.80 L254.20,160.71 L255.18,165.53 L256.15,170.77 L257.13,176.00 L258.11,180.85 L259.08,185.07 L260.06,188.54 L261.04,191.25 L262.01,193.25 L262.99,194.67 L263.97,195.63 L264.94,196.24 L265.92,196.62 L266.89,196.84 L267.87,196.97 L268.85,197.03 L269.82,197.07 L270.80,197.09 L271.78,197.09 L272.75,197.10 L273.73,197.10 L274.70,197.10 L275.68,197.10 L276.66,197.10 L277.63,197.10 L278.61,197.10 L279.59,197.10 L280.56,197.10 L281.54,197.10 L282.51,197.10 L283.49,197.10 L284.47,197.10 L285.44,197.10 L286.42,197.10 L287.39,197.10 L288.37,197.10 L289.35,197.10 L290.32,197.10 L291.30,197.10 L291.30,197.10 L213.20,197.10Z" fill="#bf92a8" stroke="none"/>
<path d="M213.20,151.60 L291.30,151.60 L291.30,197.10" fill="none" stroke="#959595" stroke-width="0.75"/>
<line x1="213.20" y1="151.60" x2="213.20" y2="197.10" stroke="#d8d8d8" stroke-width="0.7" stroke-linecap="butt" />
<polyline points="227.84,196.90 228.33,196.62 228.82,196.05 229.31,194.97 229.80,193.08 230.28,190.06 230.77,185.66 231.26,179.84 231.75,172.95 232.24,165.73 232.72,159.28 233.21,154.80 233.70,153.20 234.19,154.82 234.68,159.31 235.17,165.76 235.65,172.98 236.14,179.88 236.63,185.69 237.12,190.08 237.61,193.10 238.09,194.98 238.58,196.06 239.07,196.62 239.56,196.90" stroke="#e31c2c" stroke-width="0.8" fill="none" stroke-linejoin="round" />
<polyline points="233.70,196.88 234.19,196.80 234.68,196.70 235.17,196.56 235.65,196.39 236.14,196.18 236.63,195.91 237.12,195.58 237.61,195.17 238.09,194.66 238.58,194.06 239.07,193.34 239.56,192.49 240.05,191.50 240.53,190.36 241.02,189.05 241.51,187.57 242.00,185.92 242.49,184.10 242.98,182.12 243.46,179.98 243.95,177.71 244.44,175.34 244.93,172.88 245.42,170.39 245.90,167.90 246.39,165.46 246.88,163.11 247.37,160.91 247.86,158.90 248.34,157.14 248.83,155.66 249.32,154.51 249.81,153.70 250.30,153.27 250.79,153.20 251.27,153.20 251.76,153.49 252.25,154.20 252.74,155.31 253.23,156.80 253.71,158.62 254.20,160.71 254.69,163.04 255.18,165.53 255.67,168.13 256.15,170.77 256.64,173.41 257.13,176.00 257.62,178.49 258.11,180.85 258.60,183.05 259.08,185.07 259.57,186.90 260.06,188.54 260.55,189.99 261.04,191.25 261.52,192.33 262.01,193.25 262.50,194.03 262.99,194.67 263.48,195.20 263.97,195.63 264.45,195.97 264.94,196.24 265.43,196.45 265.92,196.62 266.41,196.74 266.89,196.84 267.38,196.91" stroke="#e31c2c" stroke-width="0.8" fill="none" stroke-linejoin="round" />
<polyline points="227.84,196.96 228.33,196.78 228.82,196.40 229.31,195.69 229.80,194.42 230.28,192.35 230.77,189.21 231.26,184.82 231.75,179.21 232.24,172.69 232.72,165.92 233.21,159.80 233.70,155.32 234.19,153.27 234.68,154.05 235.17,157.51 235.65,163.00 236.14,169.60 236.63,176.34 237.12,182.42 237.61,187.38 238.09,191.07 238.58,193.60 239.07,195.20 239.56,196.13 240.05,196.64 240.53,196.89" stroke="#1f80ff" stroke-width="0.95" fill="none" stroke-linejoin="round" />
<polyline points="233.70,196.86 234.19,196.78 234.68,196.67 235.17,196.53 235.65,196.36 236.14,196.14 236.63,195.87 237.12,195.53 237.61,195.12 238.09,194.62 238.58,194.02 239.07,193.31 239.56,192.47 240.05,191.49 240.53,190.37 241.02,189.09 241.51,187.65 242.00,186.04 242.49,184.27 242.98,182.34 243.46,180.26 243.95,178.05 244.44,175.73 244.93,173.34 245.42,170.89 245.90,168.45 246.39,166.03 246.88,163.70 247.37,161.50 247.86,159.47 248.34,157.67 248.83,156.12 249.32,154.88 249.81,153.96 250.30,153.40 250.79,153.20 251.27,153.20 251.76,153.31 252.25,153.78 252.74,154.63 253.23,155.83 253.71,157.34 254.20,159.13 254.69,161.17 255.18,163.39 255.67,165.75 256.15,168.20 256.64,170.69 257.13,173.18 257.62,175.63 258.11,177.99 258.60,180.25 259.08,182.37 259.57,184.33 260.06,186.13 260.55,187.76 261.04,189.22 261.52,190.50 262.01,191.63 262.50,192.60 262.99,193.44 263.48,194.14 263.97,194.73 264.45,195.22 264.94,195.62 265.43,195.95 265.92,196.21 266.41,196.42 266.89,196.58 267.38,196.71 267.87,196.81 268.36,196.88" stroke="#1f80ff" stroke-width="0.95" fill="none" stroke-linejoin="round" />
<line x1="213.20" y1="197.25" x2="291.30" y2="197.25" stroke="#2a2a2a" stroke-width="0.95" stroke-linecap="butt" />
<ellipse cx="26.45" cy="117.75" rx="3.9" ry="3.25" fill="none" stroke="#000" stroke-width="1.35"/>
<line x1="20.40" y1="115.40" x2="32.30" y2="120.30" stroke="#000" stroke-width="0.9" stroke-linecap="butt" />
<text x="20.90" y="174.60" font-family="'Liberation Sans', sans-serif" font-size="10.6" text-anchor="middle" font-weight="normal" font-style="normal" fill="#000" stroke="#000" stroke-width="0.18" transform="rotate(-90 20.9 174.6)" >IFNγ</text>
<text x="31.60" y="173.50" font-family="'Liberation Sans', sans-serif" font-size="10.2" text-anchor="middle" font-weight="normal" font-style="normal" fill="#000" stroke="#000" stroke-width="0.18" transform="rotate(-90 31.6 173.5)" >10ng/ml</text>
<text x="102.60" y="219.60" font-family="'Liberation Sans', sans-serif" font-size="10.4" text-anchor="start" font-weight="normal" font-style="normal" fill="#000" stroke="#000" stroke-width="0.18" >Ig control</text>
<text x="174.90" y="219.20" font-family="'Liberation Sans', sans-serif" font-size="10.4" text-anchor="start" font-weight="normal" font-style="normal" fill="#000" stroke="#000" stroke-width="0.18" >Specific Ab</text>
<rect x="103.10" y="225.30" width="5.80" height="6.60" rx="0" fill="none" stroke="#e8262a" stroke-width="1.1" />
<rect x="103.10" y="238.20" width="5.80" height="6.60" rx="0" fill="none" stroke="#2a8cf0" stroke-width="1.1" />
<rect x="176.20" y="224.90" width="5.80" height="6.60" rx="0" fill="#ee8c90" stroke="#d8202a" stroke-width="1.1" />
<rect x="176.20" y="237.90" width="5.80" height="6.60" rx="0" fill="#a8d4f8" stroke="#2a8cf0" stroke-width="1.1" />
<text x="114.70" y="232.00" font-family="'Liberation Sans', sans-serif" font-size="9.3" text-anchor="start" font-weight="normal" font-style="normal" fill="#000" stroke="#000" stroke-width="0.18" >MC38 WT</text>
<text x="114.70" y="244.60" font-family="'Liberation Sans', sans-serif" font-size="9.3" text-anchor="start" font-weight="normal" font-style="normal" fill="#000" stroke="#000" stroke-width="0.18" >MC38 NeoAg</text>
<text x="187.30" y="231.60" font-family="'Liberation Sans', sans-serif" font-size="9.3" text-anchor="start" font-weight="normal" font-style="normal" fill="#000" stroke="#000" stroke-width="0.18" >MC38 WT</text>
<text x="187.30" y="244.20" font-family="'Liberation Sans', sans-serif" font-size="9.3" text-anchor="start" font-weight="normal" font-style="normal" fill="#000" stroke="#000" stroke-width="0.18" >MC38 NeoAg</text>
<text x="313.60" y="73.40" font-family="'Liberation Sans', sans-serif" font-size="16" text-anchor="start" font-weight="bold" font-style="normal" fill="#000" >c</text>
<rect x="306.50" y="117.00" width="106.50" height="45.60" rx="0" fill="#fff" stroke="#444" stroke-width="0.9" />
<text x="359.75" y="129.80" font-family="'Liberation Sans', sans-serif" font-size="10.7" text-anchor="middle" font-weight="normal" font-style="normal" fill="#000" stroke="#000" stroke-width="0.18" >s.c. injection 2.5x10<tspan font-size="7.2" dy="-4.0">5</tspan></text>
<text x="359.40" y="142.80" font-family="'Liberation Sans', sans-serif" font-size="10.7" text-anchor="middle" font-weight="normal" font-style="normal" fill="#000" stroke="#000" stroke-width="0.18" >MC38 NeoAg cells</text>
<text x="359.40" y="155.50" font-family="'Liberation Sans', sans-serif" font-size="10.7" text-anchor="middle" font-weight="normal" font-style="normal" fill="#000" stroke="#000" stroke-width="0.18" >in right flank</text>
<rect x="416.60" y="77.50" width="100.10" height="84.90" rx="0" fill="#fff" stroke="#444" stroke-width="0.9" />
<text x="420.10" y="89.70" font-family="'Liberation Sans', sans-serif" font-size="10.7" text-anchor="start" font-weight="normal" font-style="normal" fill="#000" stroke="#000" stroke-width="0.18" >i.m injection 10<tspan font-size="7.2" dy="-4.0">9</tspan><tspan dx="2.5" dy="4.0">TU</tspan></text>
<text x="420.60" y="102.70" font-family="'Liberation Sans', sans-serif" font-size="10.7" text-anchor="start" font-weight="normal" font-style="normal" fill="#000" stroke="#000" stroke-width="0.18" >•</text>
<text x="435.80" y="102.70" font-family="'Liberation Sans', sans-serif" font-size="10.7" text-anchor="start" font-weight="normal" font-style="normal" fill="#000" stroke="#000" stroke-width="0.18" >Ctrl LV</text>
<text x="420.60" y="115.45" font-family="'Liberation Sans', sans-serif" font-size="10.7" text-anchor="start" font-weight="normal" font-style="normal" fill="#000" stroke="#000" stroke-width="0.18" >•</text>
<text x="435.80" y="115.45" font-family="'Liberation Sans', sans-serif" font-size="10.7" text-anchor="start" font-weight="normal" font-style="normal" fill="#000" stroke="#000" stroke-width="0.18" >LV::conca</text>
<text x="420.60" y="128.20" font-family="'Liberation Sans', sans-serif" font-size="10.7" text-anchor="start" font-weight="normal" font-style="normal" fill="#000" stroke="#000" stroke-width="0.18" >•</text>
<text x="435.80" y="128.20" font-family="'Liberation Sans', sans-serif" font-size="10.7" text-anchor="start" font-weight="normal" font-style="normal" fill="#000" stroke="#000" stroke-width="0.18" >LV::G7</text>
<text x="420.60" y="140.95" font-family="'Liberation Sans', sans-serif" font-size="10.7" text-anchor="start" font-weight="normal" font-style="normal" fill="#000" stroke="#000" stroke-width="0.18" >•</text>
<text x="435.80" y="140.95" font-family="'Liberation Sans', sans-serif" font-size="10.7" text-anchor="start" font-weight="normal" font-style="normal" fill="#000" stroke="#000" stroke-width="0.18" >LV::A7</text>
<text x="420.60" y="153.70" font-family="'Liberation Sans', sans-serif" font-size="10.7" text-anchor="start" font-weight="normal" font-style="normal" fill="#000" stroke="#000" stroke-width="0.18" >•</text>
<text x="435.80" y="153.70" font-family="'Liberation Sans', sans-serif" font-size="10.7" text-anchor="start" font-weight="normal" font-style="normal" fill="#000" stroke="#000" stroke-width="0.18" >LV::UBA7</text>
<rect x="520.50" y="116.50" width="163.80" height="45.60" rx="0" fill="#fff" stroke="#444" stroke-width="0.9" />
<text x="602.50" y="129.80" font-family="'Liberation Sans', sans-serif" font-size="10.7" text-anchor="middle" font-weight="normal" font-style="normal" fill="#000" stroke="#000" stroke-width="0.18" >Mice with a complete response :</text>
<text x="602.50" y="142.30" font-family="'Liberation Sans', sans-serif" font-size="10.7" text-anchor="middle" font-weight="normal" font-style="normal" fill="#000" stroke="#000" stroke-width="0.18" >s.c. injection 2.5x10<tspan font-size="7.2" dy="-4.0">5</tspan></text>
<text x="602.00" y="155.00" font-family="'Liberation Sans', sans-serif" font-size="10.7" text-anchor="middle" font-weight="normal" font-style="normal" fill="#000" stroke="#000" stroke-width="0.18" >MC38 WT in left flank</text>
<line x1="392.50" y1="162.60" x2="392.50" y2="169.00" stroke="#555" stroke-width="0.9" stroke-linecap="butt" />
<line x1="465.10" y1="162.40" x2="465.10" y2="169.00" stroke="#555" stroke-width="0.9" stroke-linecap="butt" />
<line x1="586.00" y1="162.10" x2="586.00" y2="169.00" stroke="#555" stroke-width="0.9" stroke-linecap="butt" />
<line x1="392.50" y1="174.30" x2="500.50" y2="174.30" stroke="#333" stroke-width="0.9" stroke-linecap="butt" />
<line x1="548.10" y1="174.30" x2="599.50" y2="174.30" stroke="#333" stroke-width="0.9" stroke-linecap="butt" />
<line x1="648.40" y1="174.30" x2="660.00" y2="174.30" stroke="#333" stroke-width="0.9" stroke-linecap="butt" />
<circle cx="406.40" cy="174.30" r="2.70" fill="#000" stroke="none" stroke-width="1"/>
<circle cx="418.10" cy="174.30" r="2.70" fill="#000" stroke="none" stroke-width="1"/>
<circle cx="429.90" cy="174.30" r="2.70" fill="#000" stroke="none" stroke-width="1"/>
<circle cx="441.60" cy="174.30" r="2.70" fill="#000" stroke="none" stroke-width="1"/>
<circle cx="453.30" cy="174.30" r="2.70" fill="#000" stroke="none" stroke-width="1"/>
<circle cx="477.00" cy="174.30" r="2.70" fill="#000" stroke="none" stroke-width="1"/>
<circle cx="488.80" cy="174.30" r="2.70" fill="#000" stroke="none" stroke-width="1"/>
<circle cx="500.50" cy="174.30" r="2.70" fill="#000" stroke="none" stroke-width="1"/>
<circle cx="548.10" cy="174.30" r="2.70" fill="#000" stroke="none" stroke-width="1"/>
<circle cx="560.00" cy="174.30" r="2.70" fill="#000" stroke="none" stroke-width="1"/>
<circle cx="571.90" cy="174.30" r="2.70" fill="#000" stroke="none" stroke-width="1"/>
<circle cx="599.50" cy="174.30" r="2.70" fill="#000" stroke="none" stroke-width="1"/>
<circle cx="648.40" cy="174.30" r="2.70" fill="#000" stroke="none" stroke-width="1"/>
<circle cx="512.20" cy="174.30" r="2.10" fill="#fff" stroke="#222" stroke-width="0.8"/>
<circle cx="524.00" cy="174.30" r="2.10" fill="#fff" stroke="#222" stroke-width="0.8"/>
<circle cx="535.80" cy="174.30" r="2.10" fill="#fff" stroke="#222" stroke-width="0.8"/>
<circle cx="612.10" cy="174.30" r="2.10" fill="#fff" stroke="#222" stroke-width="0.8"/>
<circle cx="624.20" cy="174.30" r="2.10" fill="#fff" stroke="#222" stroke-width="0.8"/>
<circle cx="636.40" cy="174.30" r="2.10" fill="#fff" stroke="#222" stroke-width="0.8"/>
<circle cx="392.50" cy="174.30" r="5.40" fill="#b4e0a4" stroke="#5a5a5a" stroke-width="0.9"/>
<circle cx="465.10" cy="174.30" r="5.40" fill="#b4e0a4" stroke="#5a5a5a" stroke-width="0.9"/>
<circle cx="586.00" cy="174.30" r="5.40" fill="#b4e0a4" stroke="#5a5a5a" stroke-width="0.9"/>
<path d="M658.4,169.7 L667.9,175.1 L658.4,180.6 Z" fill="#f6c3a2" stroke="#4a5a6a" stroke-width="0.8"/>
<text x="365.30" y="193.00" font-family="'Liberation Sans', sans-serif" font-size="11.3" text-anchor="start" font-weight="normal" font-style="normal" fill="#c81216" stroke="#c81216" stroke-width="0.18" >Day 0</text>
<text x="465.40" y="193.20" font-family="'Liberation Sans', sans-serif" font-size="11.4" text-anchor="middle" font-weight="normal" font-style="normal" fill="#c81216" stroke="#c81216" stroke-width="0.18" >6</text>
<text x="585.60" y="193.20" font-family="'Liberation Sans', sans-serif" font-size="11.5" text-anchor="middle" font-weight="normal" font-style="normal" fill="#c81216" stroke="#c81216" stroke-width="0.18" >55</text>
<text x="485.30" y="192.60" font-family="'Liberation Sans', sans-serif" font-size="7.1" text-anchor="start" font-weight="normal" font-style="italic" fill="#111" stroke="#111" stroke-width="0.18" >Tumor growth follow-up</text>
<text x="606.00" y="192.60" font-family="'Liberation Sans', sans-serif" font-size="7.1" text-anchor="start" font-weight="normal" font-style="italic" fill="#111" stroke="#111" stroke-width="0.18" >Tumor growth follow-up</text>
<path d="M321.6,182.3 C317.5,185.5 315.2,189.5 318.8,192.6 C323,195.4 333,195.3 341,195.8 C347.5,196.3 352.5,196.8 356.2,199" fill="none" stroke="#bdbdbd" stroke-width="0.9"/>
<path d="M321.6,181.5 C320.6,177 322,172.5 326,170 C330,167.6 335.5,167.5 339.5,169.3 L344.4,167.1 L349,173.5 L353.9,180.6 L350.5,182.9 L345.6,184.2 L344.8,186.2 C341,186 336,185.6 330.5,185 C326,184.6 322.8,184 321.6,181.5 Z" fill="#e3e3e3" stroke="#aaaaaa" stroke-width="0.6"/>
<path d="M339.6,169.4 L344.4,167.1 L353.9,180.6 L350.5,182.9 L345.6,184.2 C343,181 341,176 339.6,169.4 Z" fill="#ebebeb" stroke="none"/>
<ellipse cx="341.6" cy="173.3" rx="2.6" ry="3.6" fill="#d9d9d9" stroke="#a8a8a8" stroke-width="0.5" transform="rotate(-15 341.6 173.3)"/>
<path d="M343.8,185 L345.2,189.4 L347.2,189.6" fill="none" stroke="#a0a0a0" stroke-width="0.8"/>
<path d="M329.5,185.4 L331.5,187.6 L334.6,187.9" fill="none" stroke="#a0a0a0" stroke-width="0.8"/>
<path d="M349.5,183 L350.6,186.4" fill="none" stroke="#b0b0b0" stroke-width="0.6"/>
<circle cx="348.6" cy="178.5" r="0.75" fill="#555"/>
<text x="1.00" y="248.30" font-family="'Liberation Sans', sans-serif" font-size="16" text-anchor="start" font-weight="bold" font-style="normal" fill="#000" >d</text>
<line x1="42.30" y1="292.40" x2="42.30" y2="349.60" stroke="#4a4a4a" stroke-width="1.1" stroke-linecap="butt" />
<line x1="37.90" y1="345.80" x2="42.30" y2="345.80" stroke="#4a4a4a" stroke-width="1.0" stroke-linecap="butt" />
<line x1="37.90" y1="328.00" x2="42.30" y2="328.00" stroke="#4a4a4a" stroke-width="1.0" stroke-linecap="butt" />
<line x1="37.90" y1="310.20" x2="42.30" y2="310.20" stroke="#4a4a4a" stroke-width="1.0" stroke-linecap="butt" />
<line x1="37.90" y1="292.40" x2="42.30" y2="292.40" stroke="#4a4a4a" stroke-width="1.0" stroke-linecap="butt" />
<line x1="37.90" y1="345.80" x2="148.60" y2="345.80" stroke="#4a4a4a" stroke-width="1.1" stroke-linecap="butt" />
<line x1="77.73" y1="345.80" x2="77.73" y2="349.60" stroke="#4a4a4a" stroke-width="1.0" stroke-linecap="butt" />
<line x1="113.17" y1="345.80" x2="113.17" y2="349.60" stroke="#4a4a4a" stroke-width="1.0" stroke-linecap="butt" />
<line x1="148.60" y1="345.80" x2="148.60" y2="349.60" stroke="#4a4a4a" stroke-width="1.0" stroke-linecap="butt" />
<text x="42.30" y="359.60" font-family="'Liberation Sans', sans-serif" font-size="8.6" text-anchor="middle" font-weight="normal" font-style="normal" fill="#000" stroke="#000" stroke-width="0.18" >0</text>
<text x="77.73" y="359.60" font-family="'Liberation Sans', sans-serif" font-size="8.6" text-anchor="middle" font-weight="normal" font-style="normal" fill="#000" stroke="#000" stroke-width="0.18" >20</text>
<text x="113.17" y="359.60" font-family="'Liberation Sans', sans-serif" font-size="8.6" text-anchor="middle" font-weight="normal" font-style="normal" fill="#000" stroke="#000" stroke-width="0.18" >40</text>
<text x="148.60" y="359.60" font-family="'Liberation Sans', sans-serif" font-size="8.6" text-anchor="middle" font-weight="normal" font-style="normal" fill="#000" stroke="#000" stroke-width="0.18" >60</text>
<text x="36.90" y="348.81" font-family="'Liberation Sans', sans-serif" font-size="8.6" text-anchor="end" font-weight="normal" font-style="normal" fill="#000" stroke="#000" stroke-width="0.18" >0</text>
<text x="36.90" y="331.01" font-family="'Liberation Sans', sans-serif" font-size="8.6" text-anchor="end" font-weight="normal" font-style="normal" fill="#000" stroke="#000" stroke-width="0.18" >500</text>
<text x="36.90" y="313.21" font-family="'Liberation Sans', sans-serif" font-size="8.6" text-anchor="end" font-weight="normal" font-style="normal" fill="#000" stroke="#000" stroke-width="0.18" >1000</text>
<text x="36.90" y="295.41" font-family="'Liberation Sans', sans-serif" font-size="8.6" text-anchor="end" font-weight="normal" font-style="normal" fill="#000" stroke="#000" stroke-width="0.18" >1500</text>
<text x="95.85" y="277.30" font-family="'Liberation Sans', sans-serif" font-size="9.9" text-anchor="middle" font-weight="normal" font-style="normal" fill="#000" stroke="#000" stroke-width="0.18" >Ctrl LV</text>
<line x1="61.40" y1="292.40" x2="61.40" y2="345.20" stroke="#f7aaa4" stroke-width="0.85" stroke-linecap="butt" />
<line x1="38.30" y1="345.80" x2="148.60" y2="345.80" stroke="#b6b6b6" stroke-width="2.0" stroke-linecap="butt" />
<polyline points="54.67,345.46 65.18,334.13 75.93,292.44" stroke="#b6b6b6" stroke-width="1.15" fill="none" stroke-linejoin="round" />
<polyline points="67.52,344.29 78.61,327.12 90.29,309.02 93.45,292.44" stroke="#b6b6b6" stroke-width="1.15" fill="none" stroke-linejoin="round" />
<polyline points="68.69,344.29 76.86,334.72 93.21,310.77 100.80,292.44" stroke="#b6b6b6" stroke-width="1.15" fill="none" stroke-linejoin="round" />
<polyline points="69.27,344.29 79.20,335.30 90.88,335.30 94.38,333.55 101.39,319.53 105.82,293.26" stroke="#b6b6b6" stroke-width="1.15" fill="none" stroke-linejoin="round" />
<polyline points="73.36,344.29 83.87,331.21 94.38,320.70 101.39,305.52 104.89,295.01 106.29,292.44" stroke="#b6b6b6" stroke-width="1.15" fill="none" stroke-linejoin="round" />
<polyline points="79.20,345.23 90.88,343.47 100.22,338.22 106.06,332.38 109.56,320.70 111.31,313.69 114.82,310.77 118.32,292.44" stroke="#b6b6b6" stroke-width="1.15" fill="none" stroke-linejoin="round" />
<polyline points="85.04,345.23 96.72,342.89 104.89,337.05 107.23,331.21 110.73,321.87 114.23,318.95 123.81,298.51" stroke="#b6b6b6" stroke-width="1.15" fill="none" stroke-linejoin="round" />
<line x1="169.30" y1="292.10" x2="169.30" y2="349.00" stroke="#4a4a4a" stroke-width="1.1" stroke-linecap="butt" />
<line x1="164.90" y1="345.20" x2="169.30" y2="345.20" stroke="#4a4a4a" stroke-width="1.0" stroke-linecap="butt" />
<line x1="164.90" y1="327.50" x2="169.30" y2="327.50" stroke="#4a4a4a" stroke-width="1.0" stroke-linecap="butt" />
<line x1="164.90" y1="309.80" x2="169.30" y2="309.80" stroke="#4a4a4a" stroke-width="1.0" stroke-linecap="butt" />
<line x1="164.90" y1="292.10" x2="169.30" y2="292.10" stroke="#4a4a4a" stroke-width="1.0" stroke-linecap="butt" />
<line x1="164.90" y1="345.20" x2="275.10" y2="345.20" stroke="#4a4a4a" stroke-width="1.1" stroke-linecap="butt" />
<line x1="204.57" y1="345.20" x2="204.57" y2="349.00" stroke="#4a4a4a" stroke-width="1.0" stroke-linecap="butt" />
<line x1="239.83" y1="345.20" x2="239.83" y2="349.00" stroke="#4a4a4a" stroke-width="1.0" stroke-linecap="butt" />
<line x1="275.10" y1="345.20" x2="275.10" y2="349.00" stroke="#4a4a4a" stroke-width="1.0" stroke-linecap="butt" />
<text x="169.30" y="359.80" font-family="'Liberation Sans', sans-serif" font-size="8.6" text-anchor="middle" font-weight="normal" font-style="normal" fill="#000" stroke="#000" stroke-width="0.18" >0</text>
<text x="204.57" y="359.80" font-family="'Liberation Sans', sans-serif" font-size="8.6" text-anchor="middle" font-weight="normal" font-style="normal" fill="#000" stroke="#000" stroke-width="0.18" >20</text>
<text x="239.83" y="359.80" font-family="'Liberation Sans', sans-serif" font-size="8.6" text-anchor="middle" font-weight="normal" font-style="normal" fill="#000" stroke="#000" stroke-width="0.18" >40</text>
<text x="275.10" y="359.80" font-family="'Liberation Sans', sans-serif" font-size="8.6" text-anchor="middle" font-weight="normal" font-style="normal" fill="#000" stroke="#000" stroke-width="0.18" >60</text>
<text x="222.15" y="279.30" font-family="'Liberation Sans', sans-serif" font-size="9.9" text-anchor="middle" font-weight="normal" font-style="normal" fill="#000" stroke="#000" stroke-width="0.18" >LV::conca</text>
<line x1="188.30" y1="292.10" x2="188.30" y2="344.60" stroke="#f7aaa4" stroke-width="0.85" stroke-linecap="butt" />
<line x1="168.00" y1="345.20" x2="227.40" y2="345.20" stroke="#c9a42a" stroke-width="1.3" stroke-linecap="butt" />
<polyline points="168.00,345.20 179.68,344.93 188.44,342.01 192.82,342.74 202.31,320.41 216.18,320.41 220.55,313.55 227.85,309.61" stroke="#c9a42a" stroke-width="1.25" fill="none" stroke-linejoin="round" />
<polyline points="168.00,345.20 188.44,343.18 194.28,342.74 205.96,329.17 219.09,339.82 226.39,334.72 232.23,327.42 238.07,314.28 240.99,293.55" stroke="#c9a42a" stroke-width="1.25" fill="none" stroke-linejoin="round" />
<polyline points="189.90,344.20 205.96,337.34 217.64,340.55 223.47,336.18 230.77,328.88 236.61,317.20 241.72,304.06 245.37,292.38" stroke="#c9a42a" stroke-width="1.25" fill="none" stroke-linejoin="round" />
<polyline points="192.82,344.93 205.96,339.09 219.09,342.74 226.39,331.80 233.69,325.96 239.53,311.36 243.91,293.55" stroke="#c9a42a" stroke-width="1.25" fill="none" stroke-linejoin="round" />
<polyline points="194.28,344.93 207.42,341.28 219.09,344.20 227.85,336.18 238.80,331.50 240.99,334.42 245.37,304.06 246.83,293.55" stroke="#c9a42a" stroke-width="1.25" fill="none" stroke-linejoin="round" />
<polyline points="197.20,344.93 216.18,344.20 227.85,344.20 240.99,336.18 250.48,294.57" stroke="#c9a42a" stroke-width="1.25" fill="none" stroke-linejoin="round" />
<polyline points="200.12,345.20 219.09,343.47 226.39,338.36 236.61,330.34 242.45,317.20 246.10,296.76" stroke="#c9a42a" stroke-width="1.25" fill="none" stroke-linejoin="round" />
<line x1="299.70" y1="294.30" x2="299.70" y2="351.00" stroke="#4a4a4a" stroke-width="1.1" stroke-linecap="butt" />
<line x1="295.30" y1="347.20" x2="299.70" y2="347.20" stroke="#4a4a4a" stroke-width="1.0" stroke-linecap="butt" />
<line x1="295.30" y1="329.57" x2="299.70" y2="329.57" stroke="#4a4a4a" stroke-width="1.0" stroke-linecap="butt" />
<line x1="295.30" y1="311.93" x2="299.70" y2="311.93" stroke="#4a4a4a" stroke-width="1.0" stroke-linecap="butt" />
<line x1="295.30" y1="294.30" x2="299.70" y2="294.30" stroke="#4a4a4a" stroke-width="1.0" stroke-linecap="butt" />
<line x1="295.30" y1="347.20" x2="406.10" y2="347.20" stroke="#4a4a4a" stroke-width="1.1" stroke-linecap="butt" />
<line x1="335.17" y1="347.20" x2="335.17" y2="351.00" stroke="#4a4a4a" stroke-width="1.0" stroke-linecap="butt" />
<line x1="370.63" y1="347.20" x2="370.63" y2="351.00" stroke="#4a4a4a" stroke-width="1.0" stroke-linecap="butt" />
<line x1="406.10" y1="347.20" x2="406.10" y2="351.00" stroke="#4a4a4a" stroke-width="1.0" stroke-linecap="butt" />
<text x="299.70" y="361.40" font-family="'Liberation Sans', sans-serif" font-size="8.6" text-anchor="middle" font-weight="normal" font-style="normal" fill="#000" stroke="#000" stroke-width="0.18" >0</text>
<text x="335.17" y="361.40" font-family="'Liberation Sans', sans-serif" font-size="8.6" text-anchor="middle" font-weight="normal" font-style="normal" fill="#000" stroke="#000" stroke-width="0.18" >20</text>
<text x="370.63" y="361.40" font-family="'Liberation Sans', sans-serif" font-size="8.6" text-anchor="middle" font-weight="normal" font-style="normal" fill="#000" stroke="#000" stroke-width="0.18" >40</text>
<text x="406.10" y="361.40" font-family="'Liberation Sans', sans-serif" font-size="8.6" text-anchor="middle" font-weight="normal" font-style="normal" fill="#000" stroke="#000" stroke-width="0.18" >60</text>
<text x="353.05" y="280.40" font-family="'Liberation Sans', sans-serif" font-size="9.9" text-anchor="middle" font-weight="normal" font-style="normal" fill="#000" stroke="#000" stroke-width="0.18" >LV::G7</text>
<line x1="319.50" y1="294.30" x2="319.50" y2="346.60" stroke="#f7aaa4" stroke-width="0.85" stroke-linecap="butt" />
<line x1="296.00" y1="347.20" x2="393.80" y2="347.20" stroke="#c9471b" stroke-width="1.3" stroke-linecap="butt" />
<polyline points="298.00,347.20 312.60,346.93 321.36,344.74 333.77,333.50 337.42,336.72 347.64,342.55 353.47,332.34 357.85,320.66 363.69,315.55 368.07,295.84 372.45,294.09" stroke="#c9471b" stroke-width="1.25" fill="none" stroke-linejoin="round" />
<polyline points="319.90,345.47 335.96,335.99 347.64,343.28 352.01,338.18 359.31,333.80 364.42,317.74 369.53,318.47 376.10,298.03" stroke="#c9471b" stroke-width="1.25" fill="none" stroke-linejoin="round" />
<polyline points="322.82,346.20 337.42,337.45 347.64,342.55 356.39,338.18 362.23,335.26 366.61,333.80 369.53,333.80 373.91,316.28 381.50,294.09" stroke="#c9471b" stroke-width="1.25" fill="none" stroke-linejoin="round" />
<polyline points="324.28,346.64 334.50,340.36 347.64,345.18 357.85,341.09 365.15,317.74 369.53,296.57" stroke="#c9471b" stroke-width="1.25" fill="none" stroke-linejoin="round" />
<polyline points="327.20,346.93 346.18,346.20 359.31,344.74 370.99,338.91 382.67,329.42 385.59,329.42 387.78,319.20 394.06,309.71" stroke="#c9471b" stroke-width="1.25" fill="none" stroke-linejoin="round" />
<polyline points="341.80,347.20 363.69,346.20 369.53,346.20 373.91,341.09 382.67,334.53 388.51,332.34 394.06,325.77" stroke="#c9471b" stroke-width="1.25" fill="none" stroke-linejoin="round" />
<line x1="430.90" y1="293.30" x2="430.90" y2="350.10" stroke="#4a4a4a" stroke-width="1.1" stroke-linecap="butt" />
<line x1="426.50" y1="346.30" x2="430.90" y2="346.30" stroke="#4a4a4a" stroke-width="1.0" stroke-linecap="butt" />
<line x1="426.50" y1="328.63" x2="430.90" y2="328.63" stroke="#4a4a4a" stroke-width="1.0" stroke-linecap="butt" />
<line x1="426.50" y1="310.97" x2="430.90" y2="310.97" stroke="#4a4a4a" stroke-width="1.0" stroke-linecap="butt" />
<line x1="426.50" y1="293.30" x2="430.90" y2="293.30" stroke="#4a4a4a" stroke-width="1.0" stroke-linecap="butt" />
<line x1="426.50" y1="346.30" x2="536.70" y2="346.30" stroke="#4a4a4a" stroke-width="1.1" stroke-linecap="butt" />
<line x1="466.17" y1="346.30" x2="466.17" y2="350.10" stroke="#4a4a4a" stroke-width="1.0" stroke-linecap="butt" />
<line x1="501.43" y1="346.30" x2="501.43" y2="350.10" stroke="#4a4a4a" stroke-width="1.0" stroke-linecap="butt" />
<line x1="536.70" y1="346.30" x2="536.70" y2="350.10" stroke="#4a4a4a" stroke-width="1.0" stroke-linecap="butt" />
<text x="430.90" y="361.00" font-family="'Liberation Sans', sans-serif" font-size="8.6" text-anchor="middle" font-weight="normal" font-style="normal" fill="#000" stroke="#000" stroke-width="0.18" >0</text>
<text x="466.17" y="361.00" font-family="'Liberation Sans', sans-serif" font-size="8.6" text-anchor="middle" font-weight="normal" font-style="normal" fill="#000" stroke="#000" stroke-width="0.18" >20</text>
<text x="501.43" y="361.00" font-family="'Liberation Sans', sans-serif" font-size="8.6" text-anchor="middle" font-weight="normal" font-style="normal" fill="#000" stroke="#000" stroke-width="0.18" >40</text>
<text x="536.70" y="361.00" font-family="'Liberation Sans', sans-serif" font-size="8.6" text-anchor="middle" font-weight="normal" font-style="normal" fill="#000" stroke="#000" stroke-width="0.18" >60</text>
<text x="483.80" y="280.30" font-family="'Liberation Sans', sans-serif" font-size="9.9" text-anchor="middle" font-weight="normal" font-style="normal" fill="#000" stroke="#000" stroke-width="0.18" >LV::A7</text>
<line x1="450.40" y1="293.30" x2="450.40" y2="345.70" stroke="#f7aaa4" stroke-width="0.85" stroke-linecap="butt" />
<line x1="427.00" y1="346.30" x2="524.00" y2="346.30" stroke="#6b3fe8" stroke-width="1.3" stroke-linecap="butt" />
<polyline points="430.92,346.30 442.60,346.10 445.52,344.64 449.90,345.66 453.55,342.31 457.20,342.31 464.50,325.23 478.36,339.39 489.31,331.80 492.23,323.04 495.15,313.55 499.53,316.47 503.18,293.55" stroke="#6b3fe8" stroke-width="1.25" fill="none" stroke-linejoin="round" />
<polyline points="449.90,346.10 467.42,343.18 479.82,342.31 489.31,336.18 494.42,323.77 499.53,314.28 503.62,297.49" stroke="#6b3fe8" stroke-width="1.25" fill="none" stroke-linejoin="round" />
<polyline points="457.20,346.10 471.80,344.20 486.39,346.10 489.31,346.10 502.45,333.26 507.56,321.58 512.38,293.55" stroke="#6b3fe8" stroke-width="1.25" fill="none" stroke-linejoin="round" />
<line x1="563.60" y1="292.10" x2="563.60" y2="349.00" stroke="#4a4a4a" stroke-width="1.1" stroke-linecap="butt" />
<line x1="559.20" y1="345.20" x2="563.60" y2="345.20" stroke="#4a4a4a" stroke-width="1.0" stroke-linecap="butt" />
<line x1="559.20" y1="327.50" x2="563.60" y2="327.50" stroke="#4a4a4a" stroke-width="1.0" stroke-linecap="butt" />
<line x1="559.20" y1="309.80" x2="563.60" y2="309.80" stroke="#4a4a4a" stroke-width="1.0" stroke-linecap="butt" />
<line x1="559.20" y1="292.10" x2="563.60" y2="292.10" stroke="#4a4a4a" stroke-width="1.0" stroke-linecap="butt" />
<line x1="559.20" y1="345.20" x2="669.70" y2="345.20" stroke="#4a4a4a" stroke-width="1.1" stroke-linecap="butt" />
<line x1="598.97" y1="345.20" x2="598.97" y2="349.00" stroke="#4a4a4a" stroke-width="1.0" stroke-linecap="butt" />
<line x1="634.33" y1="345.20" x2="634.33" y2="349.00" stroke="#4a4a4a" stroke-width="1.0" stroke-linecap="butt" />
<line x1="669.70" y1="345.20" x2="669.70" y2="349.00" stroke="#4a4a4a" stroke-width="1.0" stroke-linecap="butt" />
<text x="563.60" y="359.80" font-family="'Liberation Sans', sans-serif" font-size="8.6" text-anchor="middle" font-weight="normal" font-style="normal" fill="#000" stroke="#000" stroke-width="0.18" >0</text>
<text x="598.97" y="359.80" font-family="'Liberation Sans', sans-serif" font-size="8.6" text-anchor="middle" font-weight="normal" font-style="normal" fill="#000" stroke="#000" stroke-width="0.18" >20</text>
<text x="634.33" y="359.80" font-family="'Liberation Sans', sans-serif" font-size="8.6" text-anchor="middle" font-weight="normal" font-style="normal" fill="#000" stroke="#000" stroke-width="0.18" >40</text>
<text x="669.70" y="359.80" font-family="'Liberation Sans', sans-serif" font-size="8.6" text-anchor="middle" font-weight="normal" font-style="normal" fill="#000" stroke="#000" stroke-width="0.18" >60</text>
<text x="617.15" y="279.30" font-family="'Liberation Sans', sans-serif" font-size="9.9" text-anchor="middle" font-weight="normal" font-style="normal" fill="#000" stroke="#000" stroke-width="0.18" >LV::UBA7</text>
<line x1="583.40" y1="292.10" x2="583.40" y2="344.60" stroke="#f7aaa4" stroke-width="0.85" stroke-linecap="butt" />
<line x1="560.00" y1="345.20" x2="657.60" y2="345.20" stroke="#1e8ff0" stroke-width="1.3" stroke-linecap="butt" />
<polyline points="562.00,345.20 578.06,344.93 583.90,342.74 590.47,335.01 597.04,335.01 602.15,339.39 611.64,344.20 620.39,339.09 626.23,333.26 632.80,320.85 636.45,324.20 642.00,292.38" stroke="#1e8ff0" stroke-width="1.25" fill="none" stroke-linejoin="round" />
<polyline points="583.90,344.93 599.96,342.74 611.64,344.20 620.39,340.55 627.69,333.99 633.53,332.53 636.45,333.26 648.86,324.50 657.62,306.69" stroke="#1e8ff0" stroke-width="1.25" fill="none" stroke-linejoin="round" />
<polyline points="591.20,345.20 611.64,344.93 623.31,344.20 634.99,339.82 645.21,336.18 649.59,331.80 652.51,326.25 657.62,323.04" stroke="#1e8ff0" stroke-width="1.25" fill="none" stroke-linejoin="round" />
<polyline points="598.50,345.20 620.39,345.20 629.15,344.20 634.99,342.01 648.13,336.18 651.78,326.69 657.62,330.04" stroke="#1e8ff0" stroke-width="1.25" fill="none" stroke-linejoin="round" />
<text x="95.50" y="373.40" font-family="'Liberation Sans', sans-serif" font-size="8.6" text-anchor="middle" font-weight="normal" font-style="normal" fill="#000" stroke="#000" stroke-width="0.18" >Days post-engraftment</text>
<text x="11.50" y="317.90" font-family="'Liberation Sans', sans-serif" font-size="10.2" text-anchor="middle" font-weight="normal" font-style="normal" fill="#000" stroke="#000" stroke-width="0.18" transform="rotate(-90 11.5 317.9)" >Tumor volume (mm<tspan font-size="7" dy="-3.9">3</tspan><tspan dy="3.9">)</tspan></text>
<text x="2.60" y="390.90" font-family="'Liberation Sans', sans-serif" font-size="16" text-anchor="start" font-weight="bold" font-style="normal" fill="#000" >e</text>
<line x1="39.90" y1="414.60" x2="39.90" y2="520.10" stroke="#4a4a4a" stroke-width="1.1" stroke-linecap="butt" />
<line x1="34.40" y1="514.60" x2="39.90" y2="514.60" stroke="#4a4a4a" stroke-width="1.0" stroke-linecap="butt" />
<text x="32.70" y="518.30" font-family="'Liberation Sans', sans-serif" font-size="10.4" text-anchor="end" font-weight="normal" font-style="normal" fill="#000" stroke="#000" stroke-width="0.18" >0</text>
<line x1="34.40" y1="489.73" x2="39.90" y2="489.73" stroke="#4a4a4a" stroke-width="1.0" stroke-linecap="butt" />
<text x="32.70" y="493.43" font-family="'Liberation Sans', sans-serif" font-size="10.4" text-anchor="end" font-weight="normal" font-style="normal" fill="#000" stroke="#000" stroke-width="0.18" >25</text>
<line x1="34.40" y1="464.85" x2="39.90" y2="464.85" stroke="#4a4a4a" stroke-width="1.0" stroke-linecap="butt" />
<text x="32.70" y="468.55" font-family="'Liberation Sans', sans-serif" font-size="10.4" text-anchor="end" font-weight="normal" font-style="normal" fill="#000" stroke="#000" stroke-width="0.18" >50</text>
<line x1="34.40" y1="439.98" x2="39.90" y2="439.98" stroke="#4a4a4a" stroke-width="1.0" stroke-linecap="butt" />
<text x="32.70" y="443.68" font-family="'Liberation Sans', sans-serif" font-size="10.4" text-anchor="end" font-weight="normal" font-style="normal" fill="#000" stroke="#000" stroke-width="0.18" >75</text>
<line x1="34.40" y1="415.10" x2="39.90" y2="415.10" stroke="#4a4a4a" stroke-width="1.0" stroke-linecap="butt" />
<text x="32.70" y="418.80" font-family="'Liberation Sans', sans-serif" font-size="10.4" text-anchor="end" font-weight="normal" font-style="normal" fill="#000" stroke="#000" stroke-width="0.18" >100</text>
<line x1="34.40" y1="514.60" x2="249.50" y2="514.60" stroke="#4a4a4a" stroke-width="1.1" stroke-linecap="butt" />
<line x1="39.90" y1="514.60" x2="39.90" y2="520.10" stroke="#4a4a4a" stroke-width="1.0" stroke-linecap="butt" />
<text x="39.90" y="532.30" font-family="'Liberation Sans', sans-serif" font-size="10.4" text-anchor="middle" font-weight="normal" font-style="normal" fill="#000" stroke="#000" stroke-width="0.18" >0</text>
<line x1="74.83" y1="514.60" x2="74.83" y2="520.10" stroke="#4a4a4a" stroke-width="1.0" stroke-linecap="butt" />
<text x="74.83" y="532.30" font-family="'Liberation Sans', sans-serif" font-size="10.4" text-anchor="middle" font-weight="normal" font-style="normal" fill="#000" stroke="#000" stroke-width="0.18" >10</text>
<line x1="109.77" y1="514.60" x2="109.77" y2="520.10" stroke="#4a4a4a" stroke-width="1.0" stroke-linecap="butt" />
<text x="109.77" y="532.30" font-family="'Liberation Sans', sans-serif" font-size="10.4" text-anchor="middle" font-weight="normal" font-style="normal" fill="#000" stroke="#000" stroke-width="0.18" >20</text>
<line x1="144.70" y1="514.60" x2="144.70" y2="520.10" stroke="#4a4a4a" stroke-width="1.0" stroke-linecap="butt" />
<text x="144.70" y="532.30" font-family="'Liberation Sans', sans-serif" font-size="10.4" text-anchor="middle" font-weight="normal" font-style="normal" fill="#000" stroke="#000" stroke-width="0.18" >30</text>
<line x1="179.63" y1="514.60" x2="179.63" y2="520.10" stroke="#4a4a4a" stroke-width="1.0" stroke-linecap="butt" />
<text x="179.63" y="532.30" font-family="'Liberation Sans', sans-serif" font-size="10.4" text-anchor="middle" font-weight="normal" font-style="normal" fill="#000" stroke="#000" stroke-width="0.18" >40</text>
<line x1="214.57" y1="514.60" x2="214.57" y2="520.10" stroke="#4a4a4a" stroke-width="1.0" stroke-linecap="butt" />
<text x="214.57" y="532.30" font-family="'Liberation Sans', sans-serif" font-size="10.4" text-anchor="middle" font-weight="normal" font-style="normal" fill="#000" stroke="#000" stroke-width="0.18" >50</text>
<line x1="249.50" y1="514.60" x2="249.50" y2="520.10" stroke="#4a4a4a" stroke-width="1.0" stroke-linecap="butt" />
<text x="249.50" y="532.30" font-family="'Liberation Sans', sans-serif" font-size="10.4" text-anchor="middle" font-weight="normal" font-style="normal" fill="#000" stroke="#000" stroke-width="0.18" >60</text>
<text x="145.00" y="547.20" font-family="'Liberation Sans', sans-serif" font-size="9.5" text-anchor="middle" font-weight="normal" font-style="normal" fill="#000" stroke="#000" stroke-width="0.18" >Days post-engraftment</text>
<text x="9.00" y="464.50" font-family="'Liberation Sans', sans-serif" font-size="9.6" text-anchor="middle" font-weight="normal" font-style="normal" fill="#000" stroke="#000" stroke-width="0.18" transform="rotate(-90 9.0 464.5)" >Probability of Survival (%)</text>
<polyline points="189.80,443.56 189.80,457.79 200.70,457.79 200.70,471.91 232.00,471.91 232.00,500.37 249.50,500.37" stroke="#c8321e" stroke-width="1.8" fill="none" stroke-linejoin="miter" />
<polyline points="106.20,415.10 154.70,415.10 154.70,429.33 183.20,429.33 183.20,471.91 189.80,471.91 189.80,486.14 200.70,486.14 200.70,514.60" stroke="#f5a623" stroke-width="1.8" fill="none" stroke-linejoin="miter" />
<polyline points="106.20,415.10 183.20,415.10 183.20,443.56 200.70,443.56 200.70,457.79 249.50,457.79" stroke="#8040e8" stroke-width="1.8" fill="none" stroke-linejoin="miter" />
<polyline points="106.20,415.10 200.70,415.10 200.70,429.33 225.20,429.33 225.20,443.56 232.00,443.56 232.00,471.91 249.50,471.91" stroke="#1e9af5" stroke-width="1.8" fill="none" stroke-linejoin="miter" />
<polyline points="39.90,415.10 106.20,415.10 106.20,429.33 154.70,429.33 154.70,457.79 165.30,457.79 165.30,486.14 189.80,486.14 189.80,500.37 207.30,500.37 207.30,514.60" stroke="#8c8c8c" stroke-width="1.8" fill="none" stroke-linejoin="miter" />
<line x1="49.60" y1="458.30" x2="65.60" y2="458.30" stroke="#8c8c8c" stroke-width="1.8" stroke-linecap="butt" />
<text x="73.60" y="461.80" font-family="'Liberation Sans', sans-serif" font-size="9.6" text-anchor="start" font-weight="normal" font-style="normal" fill="#000" stroke="#000" stroke-width="0.18" >Ctrl LV</text>
<line x1="49.60" y1="469.55" x2="65.60" y2="469.55" stroke="#f5a623" stroke-width="1.8" stroke-linecap="butt" />
<text x="73.60" y="473.05" font-family="'Liberation Sans', sans-serif" font-size="9.6" text-anchor="start" font-weight="normal" font-style="normal" fill="#000" stroke="#000" stroke-width="0.18" >LV::Conca</text>
<line x1="49.60" y1="480.80" x2="65.60" y2="480.80" stroke="#c8321e" stroke-width="1.8" stroke-linecap="butt" />
<text x="73.60" y="484.30" font-family="'Liberation Sans', sans-serif" font-size="9.6" text-anchor="start" font-weight="normal" font-style="normal" fill="#000" stroke="#000" stroke-width="0.18" >LV::G7</text>
<line x1="49.60" y1="492.05" x2="65.60" y2="492.05" stroke="#8040e8" stroke-width="1.8" stroke-linecap="butt" />
<text x="73.60" y="495.55" font-family="'Liberation Sans', sans-serif" font-size="9.6" text-anchor="start" font-weight="normal" font-style="normal" fill="#000" stroke="#000" stroke-width="0.18" >LV::A7</text>
<line x1="49.60" y1="503.30" x2="65.60" y2="503.30" stroke="#1e9af5" stroke-width="1.8" stroke-linecap="butt" />
<text x="73.60" y="506.80" font-family="'Liberation Sans', sans-serif" font-size="9.6" text-anchor="start" font-weight="normal" font-style="normal" fill="#000" stroke="#000" stroke-width="0.18" >LV::UBA7</text>
<line x1="127.10" y1="460.20" x2="127.10" y2="480.50" stroke="#000" stroke-width="1.5" stroke-linecap="butt" />
<line x1="137.60" y1="460.20" x2="137.60" y2="490.50" stroke="#000" stroke-width="1.5" stroke-linecap="butt" />
<line x1="149.20" y1="460.20" x2="149.20" y2="500.50" stroke="#000" stroke-width="1.5" stroke-linecap="butt" />
<path d="M133.30,468.30L133.30,472.70M135.21,469.40L131.39,471.60M135.21,471.60L131.39,469.40" stroke="#000" stroke-width="1.6" stroke-linecap="round"/>
<path d="M144.10,470.00L144.10,474.40M146.01,471.10L142.19,473.30M146.01,473.30L142.19,471.10" stroke="#000" stroke-width="1.6" stroke-linecap="round"/>
<path d="M144.10,475.90L144.10,480.30M146.01,477.00L142.19,479.20M146.01,479.20L142.19,477.00" stroke="#000" stroke-width="1.6" stroke-linecap="round"/>
<path d="M155.80,472.20L155.80,476.60M157.71,473.30L153.89,475.50M157.71,475.50L153.89,473.30" stroke="#000" stroke-width="1.6" stroke-linecap="round"/>
<path d="M155.80,478.10L155.80,482.50M157.71,479.20L153.89,481.40M157.71,481.40L153.89,479.20" stroke="#000" stroke-width="1.6" stroke-linecap="round"/>
<path d="M155.80,484.00L155.80,488.40M157.71,485.10L153.89,487.30M157.71,487.30L153.89,485.10" stroke="#000" stroke-width="1.6" stroke-linecap="round"/>
<text x="298.60" y="393.10" font-family="'Liberation Sans', sans-serif" font-size="16" text-anchor="start" font-weight="bold" font-style="normal" fill="#000" >f</text>
<defs><pattern id="hatch" patternUnits="userSpaceOnUse" width="4" height="4" patternTransform="rotate(45)">
<rect width="4" height="4" fill="#fff"/><line x1="0" y1="0" x2="0" y2="4" stroke="#000" stroke-width="2.2"/></pattern></defs>
<rect x="301.50" y="456.50" width="123.00" height="7.70" rx="0" fill="#fff" stroke="#333" stroke-width="0.8" />
<line x1="296.20" y1="460.35" x2="301.50" y2="460.35" stroke="#4a4a4a" stroke-width="1.0" stroke-linecap="butt" />
<text x="294.00" y="463.65" font-family="'Liberation Sans', sans-serif" font-size="9.4" text-anchor="end" font-weight="normal" font-style="normal" fill="#000" stroke="#000" stroke-width="0.18" >Ctrl LV</text>
<rect x="301.50" y="468.30" width="105.41" height="7.70" rx="0" fill="url(#hatch)" stroke="#333" stroke-width="0.8" />
<rect x="406.91" y="468.30" width="17.59" height="7.70" rx="0" fill="#fff" stroke="#333" stroke-width="0.8" />
<line x1="296.20" y1="472.15" x2="301.50" y2="472.15" stroke="#4a4a4a" stroke-width="1.0" stroke-linecap="butt" />
<text x="294.00" y="475.45" font-family="'Liberation Sans', sans-serif" font-size="9.4" text-anchor="end" font-weight="normal" font-style="normal" fill="#000" stroke="#000" stroke-width="0.18" >LV::conca</text>
<rect x="301.50" y="480.20" width="17.59" height="7.60" rx="0" fill="#8f8f8f" stroke="#333" stroke-width="0.8" />
<rect x="319.09" y="480.20" width="105.41" height="7.60" rx="0" fill="url(#hatch)" stroke="#333" stroke-width="0.8" />
<line x1="296.20" y1="484.00" x2="301.50" y2="484.00" stroke="#4a4a4a" stroke-width="1.0" stroke-linecap="butt" />
<text x="294.00" y="487.30" font-family="'Liberation Sans', sans-serif" font-size="9.4" text-anchor="end" font-weight="normal" font-style="normal" fill="#000" stroke="#000" stroke-width="0.18" >LV::G7</text>
<rect x="301.50" y="491.40" width="70.23" height="7.50" rx="0" fill="#8f8f8f" stroke="#333" stroke-width="0.8" />
<rect x="371.73" y="491.40" width="52.77" height="7.50" rx="0" fill="url(#hatch)" stroke="#333" stroke-width="0.8" />
<line x1="296.20" y1="495.15" x2="301.50" y2="495.15" stroke="#4a4a4a" stroke-width="1.0" stroke-linecap="butt" />
<text x="294.00" y="498.45" font-family="'Liberation Sans', sans-serif" font-size="9.4" text-anchor="end" font-weight="normal" font-style="normal" fill="#000" stroke="#000" stroke-width="0.18" >LV::A7</text>
<rect x="301.50" y="503.20" width="52.77" height="7.50" rx="0" fill="#8f8f8f" stroke="#333" stroke-width="0.8" />
<rect x="354.27" y="503.20" width="70.23" height="7.50" rx="0" fill="url(#hatch)" stroke="#333" stroke-width="0.8" />
<line x1="296.20" y1="506.95" x2="301.50" y2="506.95" stroke="#4a4a4a" stroke-width="1.0" stroke-linecap="butt" />
<text x="294.00" y="510.25" font-family="'Liberation Sans', sans-serif" font-size="9.4" text-anchor="end" font-weight="normal" font-style="normal" fill="#000" stroke="#000" stroke-width="0.18" >LV::UBA7</text>
<line x1="301.50" y1="452.40" x2="301.50" y2="519.50" stroke="#4a4a4a" stroke-width="1.1" stroke-linecap="butt" />
<line x1="301.50" y1="513.70" x2="424.50" y2="513.70" stroke="#4a4a4a" stroke-width="1.1" stroke-linecap="butt" />
<line x1="301.50" y1="513.70" x2="301.50" y2="519.50" stroke="#4a4a4a" stroke-width="1.0" stroke-linecap="butt" />
<text x="301.50" y="531.20" font-family="'Liberation Sans', sans-serif" font-size="10.0" text-anchor="middle" font-weight="normal" font-style="normal" fill="#000" stroke="#000" stroke-width="0.18" >0</text>
<line x1="326.10" y1="513.70" x2="326.10" y2="519.50" stroke="#4a4a4a" stroke-width="1.0" stroke-linecap="butt" />
<text x="326.10" y="531.20" font-family="'Liberation Sans', sans-serif" font-size="10.0" text-anchor="middle" font-weight="normal" font-style="normal" fill="#000" stroke="#000" stroke-width="0.18" >20</text>
<line x1="350.70" y1="513.70" x2="350.70" y2="519.50" stroke="#4a4a4a" stroke-width="1.0" stroke-linecap="butt" />
<text x="350.70" y="531.20" font-family="'Liberation Sans', sans-serif" font-size="10.0" text-anchor="middle" font-weight="normal" font-style="normal" fill="#000" stroke="#000" stroke-width="0.18" >40</text>
<line x1="375.30" y1="513.70" x2="375.30" y2="519.50" stroke="#4a4a4a" stroke-width="1.0" stroke-linecap="butt" />
<text x="375.30" y="531.20" font-family="'Liberation Sans', sans-serif" font-size="10.0" text-anchor="middle" font-weight="normal" font-style="normal" fill="#000" stroke="#000" stroke-width="0.18" >60</text>
<line x1="399.90" y1="513.70" x2="399.90" y2="519.50" stroke="#4a4a4a" stroke-width="1.0" stroke-linecap="butt" />
<text x="399.90" y="531.20" font-family="'Liberation Sans', sans-serif" font-size="10.0" text-anchor="middle" font-weight="normal" font-style="normal" fill="#000" stroke="#000" stroke-width="0.18" >80</text>
<line x1="424.50" y1="513.70" x2="424.50" y2="519.50" stroke="#4a4a4a" stroke-width="1.0" stroke-linecap="butt" />
<text x="424.50" y="531.20" font-family="'Liberation Sans', sans-serif" font-size="10.0" text-anchor="middle" font-weight="normal" font-style="normal" fill="#000" stroke="#000" stroke-width="0.18" >100</text>
<text x="363.30" y="547.30" font-family="'Liberation Sans', sans-serif" font-size="10.0" text-anchor="middle" font-weight="normal" font-style="normal" fill="#000" stroke="#000" stroke-width="0.18" >% of mice (n=7)</text>
<rect x="307.40" y="417.00" width="13.00" height="6.60" rx="0" fill="#fff" stroke="#333" stroke-width="0.8" />
<rect x="307.40" y="428.90" width="13.00" height="6.60" rx="0" fill="url(#hatch)" stroke="#333" stroke-width="0.8" />
<rect x="307.40" y="440.50" width="13.00" height="6.60" rx="0" fill="#8f8f8f" stroke="#333" stroke-width="0.8" />
<text x="328.40" y="423.20" font-family="'Liberation Sans', sans-serif" font-size="9.9" text-anchor="start" font-weight="normal" font-style="normal" fill="#000" stroke="#000" stroke-width="0.18" >No response</text>
<text x="328.40" y="435.00" font-family="'Liberation Sans', sans-serif" font-size="9.9" text-anchor="start" font-weight="normal" font-style="normal" fill="#000" stroke="#000" stroke-width="0.18" >Partial response</text>
<text x="328.40" y="446.60" font-family="'Liberation Sans', sans-serif" font-size="9.9" text-anchor="start" font-weight="normal" font-style="normal" fill="#000" stroke="#000" stroke-width="0.18" >Complete response</text>
<text x="496.80" y="391.50" font-family="'Liberation Sans', sans-serif" font-size="16" text-anchor="start" font-weight="bold" font-style="normal" fill="#000" >g</text>
<rect x="490.30" y="453.10" width="84.20" height="7.60" rx="0" fill="#c8c8c8" stroke="#333" stroke-width="0.9" />
<line x1="553.80" y1="456.90" x2="595.70" y2="456.90" stroke="#222" stroke-width="0.9" stroke-linecap="butt" />
<line x1="553.80" y1="455.60" x2="553.80" y2="458.20" stroke="#222" stroke-width="0.9" stroke-linecap="butt" />
<line x1="595.70" y1="455.60" x2="595.70" y2="458.20" stroke="#222" stroke-width="0.9" stroke-linecap="butt" />
<line x1="484.70" y1="456.90" x2="490.30" y2="456.90" stroke="#4a4a4a" stroke-width="1.0" stroke-linecap="butt" />
<text x="482.60" y="460.10" font-family="'Liberation Sans', sans-serif" font-size="9.2" text-anchor="end" font-weight="normal" font-style="normal" fill="#000" stroke="#000" stroke-width="0.18" >Ctrl LV</text>
<rect x="490.30" y="465.40" width="42.10" height="8.00" rx="0" fill="#e8c23e" stroke="#333" stroke-width="0.9" />
<line x1="521.40" y1="469.40" x2="544.80" y2="469.40" stroke="#222" stroke-width="0.9" stroke-linecap="butt" />
<line x1="521.40" y1="468.10" x2="521.40" y2="470.70" stroke="#222" stroke-width="0.9" stroke-linecap="butt" />
<line x1="544.80" y1="468.10" x2="544.80" y2="470.70" stroke="#222" stroke-width="0.9" stroke-linecap="butt" />
<line x1="484.70" y1="469.40" x2="490.30" y2="469.40" stroke="#4a4a4a" stroke-width="1.0" stroke-linecap="butt" />
<text x="482.60" y="472.60" font-family="'Liberation Sans', sans-serif" font-size="9.2" text-anchor="end" font-weight="normal" font-style="normal" fill="#000" stroke="#000" stroke-width="0.18" >LV::conca</text>
<rect x="490.30" y="478.10" width="31.10" height="7.60" rx="0" fill="#dc8a3c" stroke="#333" stroke-width="0.9" />
<line x1="511.50" y1="481.90" x2="531.40" y2="481.90" stroke="#222" stroke-width="0.9" stroke-linecap="butt" />
<line x1="511.50" y1="480.60" x2="511.50" y2="483.20" stroke="#222" stroke-width="0.9" stroke-linecap="butt" />
<line x1="531.40" y1="480.60" x2="531.40" y2="483.20" stroke="#222" stroke-width="0.9" stroke-linecap="butt" />
<line x1="484.70" y1="481.90" x2="490.30" y2="481.90" stroke="#4a4a4a" stroke-width="1.0" stroke-linecap="butt" />
<text x="482.60" y="485.10" font-family="'Liberation Sans', sans-serif" font-size="9.2" text-anchor="end" font-weight="normal" font-style="normal" fill="#000" stroke="#000" stroke-width="0.18" >LV::G7</text>
<rect x="490.30" y="490.50" width="19.30" height="7.40" rx="0" fill="#8030e0" stroke="#333" stroke-width="0.9" />
<line x1="500.10" y1="494.20" x2="519.10" y2="494.20" stroke="#222" stroke-width="0.9" stroke-linecap="butt" />
<line x1="500.10" y1="492.90" x2="500.10" y2="495.50" stroke="#222" stroke-width="0.9" stroke-linecap="butt" />
<line x1="519.10" y1="492.90" x2="519.10" y2="495.50" stroke="#222" stroke-width="0.9" stroke-linecap="butt" />
<line x1="484.70" y1="494.20" x2="490.30" y2="494.20" stroke="#4a4a4a" stroke-width="1.0" stroke-linecap="butt" />
<text x="482.60" y="497.40" font-family="'Liberation Sans', sans-serif" font-size="9.2" text-anchor="end" font-weight="normal" font-style="normal" fill="#000" stroke="#000" stroke-width="0.18" >LV::A7</text>
<rect x="490.30" y="502.60" width="9.80" height="7.60" rx="0" fill="#12a0f8" stroke="#333" stroke-width="0.9" />
<line x1="495.60" y1="506.40" x2="505.50" y2="506.40" stroke="#222" stroke-width="0.9" stroke-linecap="butt" />
<line x1="495.60" y1="505.10" x2="495.60" y2="507.70" stroke="#222" stroke-width="0.9" stroke-linecap="butt" />
<line x1="505.50" y1="505.10" x2="505.50" y2="507.70" stroke="#222" stroke-width="0.9" stroke-linecap="butt" />
<line x1="484.70" y1="506.40" x2="490.30" y2="506.40" stroke="#4a4a4a" stroke-width="1.0" stroke-linecap="butt" />
<text x="482.60" y="509.60" font-family="'Liberation Sans', sans-serif" font-size="9.2" text-anchor="end" font-weight="normal" font-style="normal" fill="#000" stroke="#000" stroke-width="0.18" >LV::UBA7</text>
<line x1="490.30" y1="447.90" x2="490.30" y2="520.50" stroke="#4a4a4a" stroke-width="1.1" stroke-linecap="butt" />
<line x1="490.30" y1="515.00" x2="622.42" y2="515.00" stroke="#4a4a4a" stroke-width="1.1" stroke-linecap="butt" />
<line x1="490.30" y1="515.00" x2="490.30" y2="520.50" stroke="#4a4a4a" stroke-width="1.0" stroke-linecap="butt" />
<text x="490.30" y="532.20" font-family="'Liberation Sans', sans-serif" font-size="10.8" text-anchor="middle" font-weight="normal" font-style="normal" fill="#000" stroke="#000" stroke-width="0.18" >0</text>
<line x1="523.33" y1="515.00" x2="523.33" y2="520.50" stroke="#4a4a4a" stroke-width="1.0" stroke-linecap="butt" />
<text x="523.33" y="532.20" font-family="'Liberation Sans', sans-serif" font-size="10.8" text-anchor="middle" font-weight="normal" font-style="normal" fill="#000" stroke="#000" stroke-width="0.18" >5000</text>
<line x1="556.36" y1="515.00" x2="556.36" y2="520.50" stroke="#4a4a4a" stroke-width="1.0" stroke-linecap="butt" />
<text x="556.36" y="532.20" font-family="'Liberation Sans', sans-serif" font-size="10.8" text-anchor="middle" font-weight="normal" font-style="normal" fill="#000" stroke="#000" stroke-width="0.18" >10000</text>
<line x1="589.39" y1="515.00" x2="589.39" y2="520.50" stroke="#4a4a4a" stroke-width="1.0" stroke-linecap="butt" />
<text x="589.39" y="532.20" font-family="'Liberation Sans', sans-serif" font-size="10.8" text-anchor="middle" font-weight="normal" font-style="normal" fill="#000" stroke="#000" stroke-width="0.18" >15000</text>
<line x1="622.42" y1="515.00" x2="622.42" y2="520.50" stroke="#4a4a4a" stroke-width="1.0" stroke-linecap="butt" />
<text x="622.42" y="532.20" font-family="'Liberation Sans', sans-serif" font-size="10.8" text-anchor="middle" font-weight="normal" font-style="normal" fill="#000" stroke="#000" stroke-width="0.18" >20000</text>
<text x="557.20" y="548.00" font-family="'Liberation Sans', sans-serif" font-size="10.8" text-anchor="middle" font-weight="normal" font-style="normal" fill="#000" stroke="#000" stroke-width="0.18" >AUC (mm<tspan font-size="6.6" dy="-4.0">3</tspan><tspan dy="4.0">)</tspan></text>
<line x1="550.00" y1="469.20" x2="550.00" y2="494.40" stroke="#555" stroke-width="1.0" stroke-linecap="butt" />
<line x1="566.70" y1="481.30" x2="566.70" y2="506.70" stroke="#555" stroke-width="1.0" stroke-linecap="butt" />
<line x1="585.10" y1="469.20" x2="585.10" y2="506.70" stroke="#555" stroke-width="1.0" stroke-linecap="butt" />
<line x1="604.60" y1="456.60" x2="604.60" y2="469.40" stroke="#555" stroke-width="1.0" stroke-linecap="butt" />
<line x1="621.30" y1="456.60" x2="621.30" y2="481.70" stroke="#555" stroke-width="1.0" stroke-linecap="butt" />
<line x1="638.60" y1="456.60" x2="638.60" y2="494.50" stroke="#555" stroke-width="1.0" stroke-linecap="butt" />
<line x1="655.70" y1="456.60" x2="655.70" y2="506.70" stroke="#555" stroke-width="1.0" stroke-linecap="butt" />
<path d="M557.00,480.00L557.00,483.40M558.47,480.85L555.53,482.55M558.47,482.55L555.53,480.85" stroke="#000" stroke-width="1.4" stroke-linecap="round"/>
<path d="M573.90,492.70L573.90,496.10M575.37,493.55L572.43,495.25M575.37,495.25L572.43,493.55" stroke="#000" stroke-width="1.4" stroke-linecap="round"/>
<path d="M592.50,481.30L592.50,484.70M593.97,482.15L591.03,483.85M593.97,483.85L591.03,482.15" stroke="#000" stroke-width="1.4" stroke-linecap="round"/>
<path d="M592.50,486.00L592.50,489.40M593.97,486.85L591.03,488.55M593.97,488.55L591.03,486.85" stroke="#000" stroke-width="1.4" stroke-linecap="round"/>
<path d="M592.50,490.70L592.50,494.10M593.97,491.55L591.03,493.25M593.97,493.25L591.03,491.55" stroke="#000" stroke-width="1.4" stroke-linecap="round"/>
<path d="M611.80,454.50L611.80,457.70M613.19,455.30L610.41,456.90M613.19,456.90L610.41,455.30" stroke="#000" stroke-width="1.4" stroke-linecap="round"/>
<path d="M611.80,459.10L611.80,462.30M613.19,459.90L610.41,461.50M613.19,461.50L610.41,459.90" stroke="#000" stroke-width="1.4" stroke-linecap="round"/>
<path d="M611.80,463.90L611.80,467.10M613.19,464.70L610.41,466.30M613.19,466.30L610.41,464.70" stroke="#000" stroke-width="1.4" stroke-linecap="round"/>
<path d="M611.80,468.60L611.80,471.80M613.19,469.40L610.41,471.00M613.19,471.00L610.41,469.40" stroke="#000" stroke-width="1.4" stroke-linecap="round"/>
<path d="M628.10,460.70L628.10,463.90M629.49,461.50L626.71,463.10M629.49,463.10L626.71,461.50" stroke="#000" stroke-width="1.4" stroke-linecap="round"/>
<path d="M628.10,465.60L628.10,468.80M629.49,466.40L626.71,468.00M629.49,468.00L626.71,466.40" stroke="#000" stroke-width="1.4" stroke-linecap="round"/>
<path d="M628.10,470.20L628.10,473.40M629.49,471.00L626.71,472.60M629.49,472.60L626.71,471.00" stroke="#000" stroke-width="1.4" stroke-linecap="round"/>
<path d="M628.10,475.20L628.10,478.40M629.49,476.00L626.71,477.60M629.49,477.60L626.71,476.00" stroke="#000" stroke-width="1.4" stroke-linecap="round"/>
<path d="M645.50,467.00L645.50,470.20M646.89,467.80L644.11,469.40M646.89,469.40L644.11,467.80" stroke="#000" stroke-width="1.4" stroke-linecap="round"/>
<path d="M645.50,471.90L645.50,475.10M646.89,472.70L644.11,474.30M646.89,474.30L644.11,472.70" stroke="#000" stroke-width="1.4" stroke-linecap="round"/>
<path d="M645.50,476.50L645.50,479.70M646.89,477.30L644.11,478.90M646.89,478.90L644.11,477.30" stroke="#000" stroke-width="1.4" stroke-linecap="round"/>
<path d="M645.50,481.30L645.50,484.50M646.89,482.10L644.11,483.70M646.89,483.70L644.11,482.10" stroke="#000" stroke-width="1.4" stroke-linecap="round"/>
<path d="M662.90,472.90L662.90,476.10M664.29,473.70L661.51,475.30M664.29,475.30L661.51,473.70" stroke="#000" stroke-width="1.4" stroke-linecap="round"/>
<path d="M662.90,477.80L662.90,481.00M664.29,478.60L661.51,480.20M664.29,480.20L661.51,478.60" stroke="#000" stroke-width="1.4" stroke-linecap="round"/>
<path d="M662.90,482.60L662.90,485.80M664.29,483.40L661.51,485.00M664.29,485.00L661.51,483.40" stroke="#000" stroke-width="1.4" stroke-linecap="round"/>
<path d="M662.90,487.20L662.90,490.40M664.29,488.00L661.51,489.60M664.29,489.60L661.51,488.00" stroke="#000" stroke-width="1.4" stroke-linecap="round"/>
<text x="0.70" y="553.00" font-family="'Liberation Sans', sans-serif" font-size="16" text-anchor="start" font-weight="bold" font-style="normal" fill="#000" >h</text>
<line x1="39.90" y1="592.40" x2="39.90" y2="649.90" stroke="#777" stroke-width="1.1" stroke-linecap="butt" />
<line x1="35.50" y1="646.10" x2="39.90" y2="646.10" stroke="#777" stroke-width="1.0" stroke-linecap="butt" />
<text x="34.50" y="649.10" font-family="'Liberation Sans', sans-serif" font-size="8.6" text-anchor="end" font-weight="normal" font-style="normal" fill="#000" stroke="#000" stroke-width="0.18" >0</text>
<line x1="35.50" y1="628.20" x2="39.90" y2="628.20" stroke="#777" stroke-width="1.0" stroke-linecap="butt" />
<text x="34.50" y="631.20" font-family="'Liberation Sans', sans-serif" font-size="8.6" text-anchor="end" font-weight="normal" font-style="normal" fill="#000" stroke="#000" stroke-width="0.18" >500</text>
<line x1="35.50" y1="610.30" x2="39.90" y2="610.30" stroke="#777" stroke-width="1.0" stroke-linecap="butt" />
<text x="34.50" y="613.30" font-family="'Liberation Sans', sans-serif" font-size="8.6" text-anchor="end" font-weight="normal" font-style="normal" fill="#000" stroke="#000" stroke-width="0.18" >1000</text>
<line x1="35.50" y1="592.40" x2="39.90" y2="592.40" stroke="#777" stroke-width="1.0" stroke-linecap="butt" />
<text x="34.50" y="595.40" font-family="'Liberation Sans', sans-serif" font-size="8.6" text-anchor="end" font-weight="normal" font-style="normal" fill="#000" stroke="#000" stroke-width="0.18" >1500</text>
<line x1="35.50" y1="646.10" x2="146.20" y2="646.10" stroke="#777" stroke-width="1.1" stroke-linecap="butt" />
<line x1="39.90" y1="646.10" x2="39.90" y2="649.90" stroke="#777" stroke-width="1.0" stroke-linecap="butt" />
<text x="39.90" y="660.30" font-family="'Liberation Sans', sans-serif" font-size="9.0" text-anchor="middle" font-weight="normal" font-style="normal" fill="#000" stroke="#000" stroke-width="0.18" >0</text>
<line x1="66.47" y1="646.10" x2="66.47" y2="649.90" stroke="#777" stroke-width="1.0" stroke-linecap="butt" />
<text x="66.47" y="660.30" font-family="'Liberation Sans', sans-serif" font-size="9.0" text-anchor="middle" font-weight="normal" font-style="normal" fill="#000" stroke="#000" stroke-width="0.18" >10</text>
<line x1="93.05" y1="646.10" x2="93.05" y2="649.90" stroke="#777" stroke-width="1.0" stroke-linecap="butt" />
<text x="93.05" y="660.30" font-family="'Liberation Sans', sans-serif" font-size="9.0" text-anchor="middle" font-weight="normal" font-style="normal" fill="#000" stroke="#000" stroke-width="0.18" >20</text>
<line x1="119.62" y1="646.10" x2="119.62" y2="649.90" stroke="#777" stroke-width="1.0" stroke-linecap="butt" />
<text x="119.62" y="660.30" font-family="'Liberation Sans', sans-serif" font-size="9.0" text-anchor="middle" font-weight="normal" font-style="normal" fill="#000" stroke="#000" stroke-width="0.18" >30</text>
<line x1="146.20" y1="646.10" x2="146.20" y2="649.90" stroke="#777" stroke-width="1.0" stroke-linecap="butt" />
<text x="146.20" y="660.30" font-family="'Liberation Sans', sans-serif" font-size="9.0" text-anchor="middle" font-weight="normal" font-style="normal" fill="#000" stroke="#000" stroke-width="0.18" >40</text>
<text x="93.25" y="580.70" font-family="'Liberation Sans', sans-serif" font-size="9.9" text-anchor="middle" font-weight="normal" font-style="normal" fill="#000" stroke="#000" stroke-width="0.18" >Untreated n=7</text>
<line x1="169.40" y1="592.30" x2="169.40" y2="649.60" stroke="#777" stroke-width="1.1" stroke-linecap="butt" />
<line x1="165.00" y1="645.80" x2="169.40" y2="645.80" stroke="#777" stroke-width="1.0" stroke-linecap="butt" />
<line x1="165.00" y1="627.97" x2="169.40" y2="627.97" stroke="#777" stroke-width="1.0" stroke-linecap="butt" />
<line x1="165.00" y1="610.13" x2="169.40" y2="610.13" stroke="#777" stroke-width="1.0" stroke-linecap="butt" />
<line x1="165.00" y1="592.30" x2="169.40" y2="592.30" stroke="#777" stroke-width="1.0" stroke-linecap="butt" />
<line x1="165.00" y1="645.80" x2="275.10" y2="645.80" stroke="#777" stroke-width="1.1" stroke-linecap="butt" />
<line x1="169.40" y1="645.80" x2="169.40" y2="649.60" stroke="#777" stroke-width="1.0" stroke-linecap="butt" />
<text x="169.40" y="660.00" font-family="'Liberation Sans', sans-serif" font-size="9.0" text-anchor="middle" font-weight="normal" font-style="normal" fill="#000" stroke="#000" stroke-width="0.18" >0</text>
<line x1="195.83" y1="645.80" x2="195.83" y2="649.60" stroke="#777" stroke-width="1.0" stroke-linecap="butt" />
<text x="195.83" y="660.00" font-family="'Liberation Sans', sans-serif" font-size="9.0" text-anchor="middle" font-weight="normal" font-style="normal" fill="#000" stroke="#000" stroke-width="0.18" >10</text>
<line x1="222.25" y1="645.80" x2="222.25" y2="649.60" stroke="#777" stroke-width="1.0" stroke-linecap="butt" />
<text x="222.25" y="660.00" font-family="'Liberation Sans', sans-serif" font-size="9.0" text-anchor="middle" font-weight="normal" font-style="normal" fill="#000" stroke="#000" stroke-width="0.18" >20</text>
<line x1="248.68" y1="645.80" x2="248.68" y2="649.60" stroke="#777" stroke-width="1.0" stroke-linecap="butt" />
<text x="248.68" y="660.00" font-family="'Liberation Sans', sans-serif" font-size="9.0" text-anchor="middle" font-weight="normal" font-style="normal" fill="#000" stroke="#000" stroke-width="0.18" >30</text>
<line x1="275.10" y1="645.80" x2="275.10" y2="649.60" stroke="#777" stroke-width="1.0" stroke-linecap="butt" />
<text x="275.10" y="660.00" font-family="'Liberation Sans', sans-serif" font-size="9.0" text-anchor="middle" font-weight="normal" font-style="normal" fill="#000" stroke="#000" stroke-width="0.18" >40</text>
<text x="221.70" y="582.90" font-family="'Liberation Sans', sans-serif" font-size="9.9" text-anchor="middle" font-weight="normal" font-style="normal" fill="#000" stroke="#000" stroke-width="0.18" >LV::G7 n=1</text>
<line x1="301.30" y1="593.10" x2="301.30" y2="649.60" stroke="#777" stroke-width="1.1" stroke-linecap="butt" />
<line x1="296.90" y1="645.80" x2="301.30" y2="645.80" stroke="#777" stroke-width="1.0" stroke-linecap="butt" />
<line x1="296.90" y1="628.23" x2="301.30" y2="628.23" stroke="#777" stroke-width="1.0" stroke-linecap="butt" />
<line x1="296.90" y1="610.67" x2="301.30" y2="610.67" stroke="#777" stroke-width="1.0" stroke-linecap="butt" />
<line x1="296.90" y1="593.10" x2="301.30" y2="593.10" stroke="#777" stroke-width="1.0" stroke-linecap="butt" />
<line x1="296.90" y1="645.80" x2="407.20" y2="645.80" stroke="#777" stroke-width="1.1" stroke-linecap="butt" />
<line x1="301.30" y1="645.80" x2="301.30" y2="649.60" stroke="#777" stroke-width="1.0" stroke-linecap="butt" />
<text x="301.30" y="660.00" font-family="'Liberation Sans', sans-serif" font-size="9.0" text-anchor="middle" font-weight="normal" font-style="normal" fill="#000" stroke="#000" stroke-width="0.18" >0</text>
<line x1="327.77" y1="645.80" x2="327.77" y2="649.60" stroke="#777" stroke-width="1.0" stroke-linecap="butt" />
<text x="327.77" y="660.00" font-family="'Liberation Sans', sans-serif" font-size="9.0" text-anchor="middle" font-weight="normal" font-style="normal" fill="#000" stroke="#000" stroke-width="0.18" >10</text>
<line x1="354.25" y1="645.80" x2="354.25" y2="649.60" stroke="#777" stroke-width="1.0" stroke-linecap="butt" />
<text x="354.25" y="660.00" font-family="'Liberation Sans', sans-serif" font-size="9.0" text-anchor="middle" font-weight="normal" font-style="normal" fill="#000" stroke="#000" stroke-width="0.18" >20</text>
<line x1="380.73" y1="645.80" x2="380.73" y2="649.60" stroke="#777" stroke-width="1.0" stroke-linecap="butt" />
<text x="380.73" y="660.00" font-family="'Liberation Sans', sans-serif" font-size="9.0" text-anchor="middle" font-weight="normal" font-style="normal" fill="#000" stroke="#000" stroke-width="0.18" >30</text>
<line x1="407.20" y1="645.80" x2="407.20" y2="649.60" stroke="#777" stroke-width="1.0" stroke-linecap="butt" />
<text x="407.20" y="660.00" font-family="'Liberation Sans', sans-serif" font-size="9.0" text-anchor="middle" font-weight="normal" font-style="normal" fill="#000" stroke="#000" stroke-width="0.18" >40</text>
<text x="354.50" y="579.80" font-family="'Liberation Sans', sans-serif" font-size="9.9" text-anchor="middle" font-weight="normal" font-style="normal" fill="#000" stroke="#000" stroke-width="0.18" >LV::A7 n=4</text>
<line x1="430.70" y1="593.10" x2="430.70" y2="650.00" stroke="#777" stroke-width="1.1" stroke-linecap="butt" />
<line x1="426.30" y1="646.20" x2="430.70" y2="646.20" stroke="#777" stroke-width="1.0" stroke-linecap="butt" />
<line x1="426.30" y1="628.50" x2="430.70" y2="628.50" stroke="#777" stroke-width="1.0" stroke-linecap="butt" />
<line x1="426.30" y1="610.80" x2="430.70" y2="610.80" stroke="#777" stroke-width="1.0" stroke-linecap="butt" />
<line x1="426.30" y1="593.10" x2="430.70" y2="593.10" stroke="#777" stroke-width="1.0" stroke-linecap="butt" />
<line x1="426.30" y1="646.20" x2="537.00" y2="646.20" stroke="#777" stroke-width="1.1" stroke-linecap="butt" />
<line x1="430.70" y1="646.20" x2="430.70" y2="650.00" stroke="#777" stroke-width="1.0" stroke-linecap="butt" />
<text x="430.70" y="660.40" font-family="'Liberation Sans', sans-serif" font-size="9.0" text-anchor="middle" font-weight="normal" font-style="normal" fill="#000" stroke="#000" stroke-width="0.18" >0</text>
<line x1="457.27" y1="646.20" x2="457.27" y2="650.00" stroke="#777" stroke-width="1.0" stroke-linecap="butt" />
<text x="457.27" y="660.40" font-family="'Liberation Sans', sans-serif" font-size="9.0" text-anchor="middle" font-weight="normal" font-style="normal" fill="#000" stroke="#000" stroke-width="0.18" >10</text>
<line x1="483.85" y1="646.20" x2="483.85" y2="650.00" stroke="#777" stroke-width="1.0" stroke-linecap="butt" />
<text x="483.85" y="660.40" font-family="'Liberation Sans', sans-serif" font-size="9.0" text-anchor="middle" font-weight="normal" font-style="normal" fill="#000" stroke="#000" stroke-width="0.18" >20</text>
<line x1="510.43" y1="646.20" x2="510.43" y2="650.00" stroke="#777" stroke-width="1.0" stroke-linecap="butt" />
<text x="510.43" y="660.40" font-family="'Liberation Sans', sans-serif" font-size="9.0" text-anchor="middle" font-weight="normal" font-style="normal" fill="#000" stroke="#000" stroke-width="0.18" >30</text>
<line x1="537.00" y1="646.20" x2="537.00" y2="650.00" stroke="#777" stroke-width="1.0" stroke-linecap="butt" />
<text x="537.00" y="660.40" font-family="'Liberation Sans', sans-serif" font-size="9.0" text-anchor="middle" font-weight="normal" font-style="normal" fill="#000" stroke="#000" stroke-width="0.18" >40</text>
<text x="483.95" y="579.80" font-family="'Liberation Sans', sans-serif" font-size="9.9" text-anchor="middle" font-weight="normal" font-style="normal" fill="#000" stroke="#000" stroke-width="0.18" >LV::UBA7 n=3</text>
<text x="93.00" y="673.20" font-family="'Liberation Sans', sans-serif" font-size="8.6" text-anchor="middle" font-weight="normal" font-style="normal" fill="#000" stroke="#000" stroke-width="0.18" >Days post-engraftment</text>
<text x="10.20" y="618.80" font-family="'Liberation Sans', sans-serif" font-size="10.2" text-anchor="middle" font-weight="normal" font-style="normal" fill="#000" stroke="#000" stroke-width="0.18" transform="rotate(-90 10.2 618.8)" >Tumor volume (mm<tspan font-size="7" dy="-3.9">3</tspan><tspan dy="3.9">)</tspan></text>
<line x1="49.90" y1="646.10" x2="141.00" y2="646.10" stroke="#bdbdbd" stroke-width="1.6" stroke-linecap="butt" />
<polyline points="49.89,646.32 66.53,641.06 77.05,627.05 85.81,611.28 90.71,592.36" stroke="#c2c2c2" stroke-width="1.15" fill="none" stroke-linejoin="round" />
<polyline points="49.89,646.32 66.53,641.94 77.92,630.55 87.56,607.78 90.19,596.39 95.44,592.36" stroke="#c2c2c2" stroke-width="1.15" fill="none" stroke-linejoin="round" />
<polyline points="49.89,646.32 65.66,642.46 77.92,634.05 84.93,619.16 88.43,625.29 90.71,632.30 95.44,626.17 103.85,603.92" stroke="#c2c2c2" stroke-width="1.15" fill="none" stroke-linejoin="round" />
<polyline points="84.93,646.32 87.56,618.29 90.71,643.69 95.44,641.06 103.33,639.31 108.58,631.43 114.71,632.30 122.60,620.04 127.85,603.92" stroke="#c2c2c2" stroke-width="1.15" fill="none" stroke-linejoin="round" />
<polyline points="49.89,646.32 66.53,642.81 77.92,635.81 87.56,613.03 90.71,593.76" stroke="#c2c2c2" stroke-width="1.15" fill="none" stroke-linejoin="round" />
<polyline points="49.89,646.32 67.41,643.69 77.92,637.56 86.68,621.79 89.66,602.52" stroke="#c2c2c2" stroke-width="1.15" fill="none" stroke-linejoin="round" />
<polyline points="49.89,646.32 66.53,640.71 77.05,625.29 88.43,602.52 90.71,592.36" stroke="#c2c2c2" stroke-width="1.15" fill="none" stroke-linejoin="round" />
<line x1="179.20" y1="645.60" x2="256.70" y2="645.60" stroke="#cf5a1e" stroke-width="1.35" stroke-linecap="butt" />
<line x1="311.60" y1="645.80" x2="389.20" y2="645.80" stroke="#8a3ee6" stroke-width="1.35" stroke-linecap="butt" />
<polyline points="311.57,645.84 327.92,644.82 338.14,640.73 346.31,633.57 356.53,609.05 365.11,593.11" stroke="#8a3ee6" stroke-width="1.1" fill="none" stroke-linejoin="round" />
<polyline points="327.92,644.82 344.27,635.62 356.53,615.18 364.71,605.98 370.43,593.11" stroke="#8a3ee6" stroke-width="1.1" fill="none" stroke-linejoin="round" />
<polyline points="327.92,645.84 338.14,643.79 350.40,636.64 364.71,619.27 375.33,593.11" stroke="#8a3ee6" stroke-width="1.1" fill="none" stroke-linejoin="round" />
<line x1="441.20" y1="646.00" x2="518.80" y2="646.00" stroke="#2f9af4" stroke-width="1.4" stroke-linecap="butt" />
</svg>
</body></html>
